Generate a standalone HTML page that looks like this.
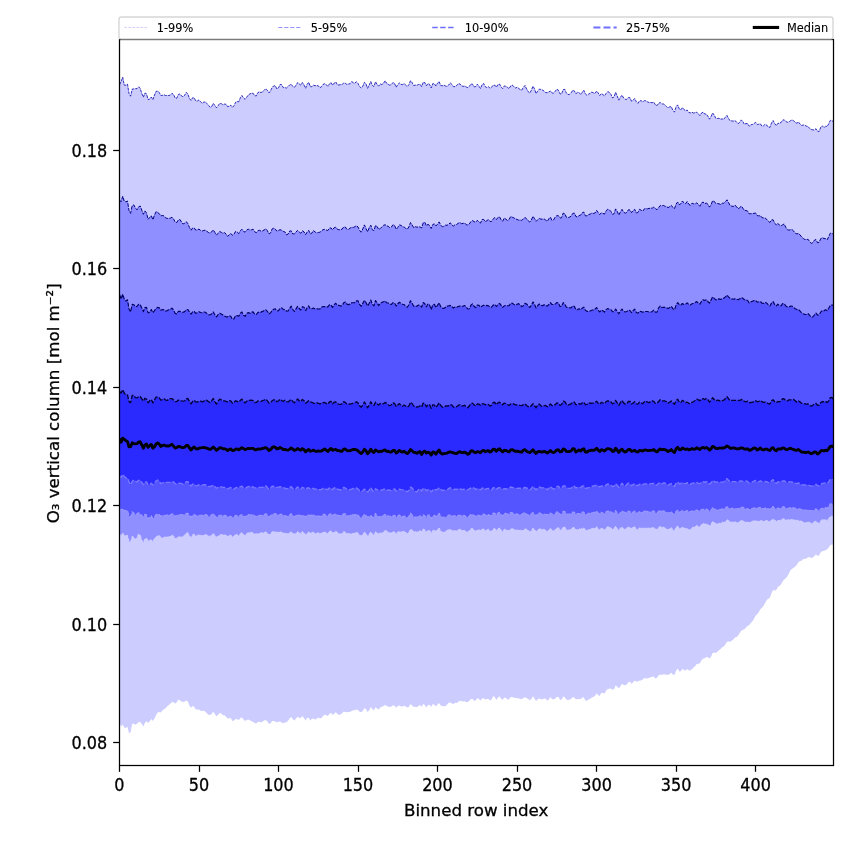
<!DOCTYPE html>
<html lang="en"><head><meta charset="utf-8"><title>O3 vertical column percentiles</title>
<style>html,body{margin:0;padding:0;background:#fff}svg{display:block}</style></head>
<body>
<svg width="850" height="850" viewBox="0 0 850 850">
<rect width="850" height="850" fill="#fff"/>
<clipPath id="ax"><rect x="119.5" y="39.5" width="714.0" height="726.0"/></clipPath>
<g clip-path="url(#ax)">
<polygon points="119.5,84.8 121.1,81.5 122.7,77.2 124.3,85.2 125.9,85.1 127.5,84.2 129.0,93.4 130.6,96.2 132.2,89.1 133.8,88.9 135.4,88.7 137.0,88.6 138.6,86.8 140.2,88.4 141.8,93.5 143.4,97.1 144.9,93.0 146.5,93.8 148.1,99.5 149.7,99.1 151.3,97.0 152.9,99.6 154.5,95.1 156.1,91.3 157.7,91.2 159.3,92.5 160.8,95.4 162.4,95.3 164.0,94.8 165.6,95.5 167.2,95.6 168.8,95.5 170.4,95.0 172.0,93.3 173.6,94.6 175.2,98.0 176.7,98.3 178.3,94.6 179.9,93.9 181.5,95.9 183.1,96.8 184.7,95.2 186.3,92.4 187.9,94.1 189.5,98.6 191.1,100.4 192.6,97.7 194.2,97.9 195.8,100.9 197.4,101.0 199.0,99.9 200.6,101.8 202.2,103.3 203.8,102.1 205.4,101.9 207.0,103.6 208.6,105.4 210.1,107.3 211.7,106.5 213.3,103.4 214.9,105.5 216.5,107.8 218.1,105.7 219.7,103.4 221.3,103.6 222.9,105.0 224.5,104.1 226.0,104.2 227.6,106.6 229.2,106.3 230.8,105.2 232.4,107.3 234.0,105.6 235.6,102.3 237.2,101.6 238.8,101.7 240.4,97.6 241.9,95.5 243.5,97.8 245.1,99.3 246.7,97.2 248.3,95.0 249.9,93.9 251.5,93.3 253.1,93.2 254.7,95.7 256.3,95.9 257.8,92.7 259.4,91.8 261.0,92.6 262.6,91.7 264.2,90.3 265.8,88.7 267.4,90.2 269.0,92.9 270.6,90.7 272.2,87.4 273.7,85.9 275.3,85.8 276.9,89.0 278.5,87.8 280.1,84.4 281.7,84.7 283.3,87.6 284.9,87.6 286.5,88.0 288.1,86.5 289.7,84.9 291.2,84.3 292.8,86.4 294.4,87.3 296.0,85.2 297.6,82.6 299.2,83.9 300.8,85.1 302.4,82.5 304.0,85.0 305.6,88.2 307.1,84.4 308.7,82.3 310.3,86.7 311.9,86.7 313.5,85.0 315.1,85.8 316.7,85.4 318.3,85.8 319.9,87.8 321.5,86.7 323.0,84.5 324.6,83.7 326.2,84.5 327.8,86.4 329.4,84.1 331.0,82.5 332.6,85.2 334.2,83.1 335.8,82.0 337.4,84.8 338.9,85.0 340.5,84.6 342.1,84.6 343.7,82.9 345.3,83.3 346.9,84.4 348.5,84.1 350.1,83.6 351.7,81.6 353.3,82.7 354.8,83.1 356.4,81.7 358.0,83.5 359.6,86.5 361.2,88.0 362.8,86.2 364.4,82.3 366.0,83.8 367.6,88.3 369.2,85.0 370.8,81.5 372.3,85.3 373.9,86.5 375.5,81.8 377.1,84.4 378.7,86.1 380.3,83.9 381.9,84.6 383.5,83.3 385.1,80.8 386.7,83.3 388.2,84.3 389.8,85.2 391.4,84.5 393.0,82.4 394.6,83.6 396.2,87.1 397.8,84.5 399.4,83.0 401.0,84.4 402.6,84.6 404.1,83.6 405.7,85.0 407.3,86.4 408.9,84.8 410.5,80.7 412.1,82.6 413.7,85.5 415.3,85.1 416.9,85.3 418.5,84.5 420.0,84.2 421.6,86.6 423.2,82.2 424.8,82.6 426.4,85.7 428.0,83.6 429.6,84.4 431.2,87.9 432.8,83.6 434.4,83.8 435.9,86.0 437.5,83.3 439.1,81.6 440.7,85.5 442.3,85.8 443.9,85.1 445.5,86.0 447.1,86.4 448.7,85.0 450.3,82.9 451.9,84.4 453.4,86.7 455.0,86.6 456.6,85.6 458.2,83.9 459.8,83.8 461.4,85.7 463.0,86.4 464.6,86.1 466.2,87.0 467.8,87.6 469.3,86.4 470.9,84.0 472.5,84.2 474.1,86.9 475.7,86.6 477.3,84.2 478.9,86.2 480.5,88.5 482.1,84.6 483.7,83.5 485.2,86.6 486.8,87.5 488.4,86.7 490.0,88.2 491.6,87.2 493.2,85.2 494.8,85.1 496.4,87.2 498.0,84.5 499.6,84.1 501.1,87.0 502.7,88.6 504.3,85.9 505.9,86.3 507.5,87.4 509.1,88.7 510.7,85.9 512.3,85.0 513.9,86.8 515.5,87.9 517.1,87.4 518.6,88.3 520.2,89.6 521.8,90.1 523.4,87.3 525.0,85.5 526.6,89.0 528.2,91.7 529.8,93.0 531.4,90.2 533.0,86.2 534.5,88.8 536.1,93.6 537.7,91.1 539.3,89.2 540.9,89.4 542.5,90.1 544.1,91.1 545.7,92.6 547.3,92.7 548.9,91.9 550.4,91.0 552.0,93.0 553.6,93.1 555.2,91.3 556.8,89.2 558.4,90.2 560.0,93.9 561.6,93.8 563.2,89.6 564.8,89.3 566.3,92.9 567.9,94.7 569.5,94.3 571.1,92.9 572.7,90.3 574.3,90.9 575.9,93.8 577.5,92.3 579.1,92.6 580.7,94.5 582.2,92.4 583.8,90.2 585.4,94.0 587.0,95.3 588.6,94.2 590.2,93.2 591.8,92.1 593.4,92.8 595.0,93.3 596.6,91.1 598.2,92.9 599.7,95.5 601.3,93.7 602.9,94.5 604.5,95.9 606.1,93.4 607.7,91.7 609.3,92.3 610.9,94.3 612.5,97.9 614.1,96.9 615.6,92.3 617.2,95.8 618.8,100.2 620.4,97.3 622.0,95.2 623.6,98.0 625.2,99.3 626.8,99.3 628.4,97.5 630.0,97.8 631.5,101.2 633.1,100.3 634.7,98.5 636.3,101.7 637.9,103.3 639.5,100.9 641.1,100.6 642.7,101.9 644.3,100.7 645.9,100.8 647.4,101.8 649.0,102.5 650.6,102.5 652.2,102.7 653.8,102.2 655.4,104.8 657.0,105.6 658.6,103.3 660.2,102.5 661.8,104.0 663.3,103.9 664.9,105.0 666.5,106.6 668.1,107.9 669.7,106.8 671.3,106.7 672.9,110.5 674.5,112.0 676.1,106.7 677.7,104.9 679.3,109.1 680.8,109.8 682.4,107.6 684.0,109.6 685.6,110.7 687.2,110.1 688.8,112.4 690.4,112.9 692.0,112.3 693.6,113.0 695.2,112.6 696.7,112.2 698.3,113.8 699.9,115.6 701.5,113.0 703.1,112.2 704.7,114.0 706.3,114.2 707.9,116.1 709.5,119.2 711.1,116.5 712.6,113.0 714.2,115.1 715.8,118.4 717.4,118.5 719.0,118.2 720.6,119.1 722.2,118.9 723.8,119.3 725.4,117.2 727.0,115.4 728.5,118.4 730.1,120.8 731.7,120.9 733.3,121.1 734.9,120.6 736.5,121.8 738.1,123.6 739.7,122.4 741.3,119.9 742.9,121.7 744.4,124.4 746.0,123.5 747.6,123.6 749.2,126.2 750.8,124.8 752.4,124.5 754.0,123.6 755.6,122.3 757.2,124.4 758.8,124.3 760.4,123.8 761.9,126.1 763.5,125.8 765.1,124.3 766.7,125.0 768.3,127.1 769.9,127.4 771.5,123.0 773.1,120.6 774.7,123.6 776.3,125.6 777.8,123.4 779.4,123.1 781.0,122.6 782.6,120.2 784.2,119.8 785.8,121.5 787.4,122.2 789.0,121.9 790.6,120.6 792.2,120.0 793.7,120.8 795.3,122.5 796.9,123.2 798.5,122.0 800.1,124.1 801.7,125.5 803.3,125.0 804.9,125.4 806.5,126.2 808.1,126.5 809.6,128.4 811.2,129.5 812.8,129.8 814.4,130.0 816.0,128.7 817.6,131.2 819.2,131.4 820.8,127.1 822.4,125.9 824.0,127.7 825.5,126.3 827.1,126.5 828.7,123.9 830.3,120.4 831.9,120.5 833.5,122.0 833.5,544.7 831.9,544.5 830.3,545.2 828.7,547.6 827.1,549.6 825.5,549.9 824.0,551.1 822.4,550.9 820.8,552.3 819.2,555.3 817.6,555.9 816.0,554.6 814.4,555.9 812.8,557.4 811.2,558.1 809.6,557.2 808.1,557.0 806.5,558.6 804.9,559.0 803.3,559.0 801.7,560.4 800.1,561.2 798.5,562.1 796.9,564.8 795.3,566.5 793.7,567.8 792.2,568.7 790.6,570.1 789.0,573.2 787.4,576.2 785.8,578.3 784.2,579.5 782.6,581.6 781.0,584.6 779.4,585.9 777.8,586.9 776.3,590.1 774.7,590.6 773.1,590.1 771.5,593.3 769.9,597.7 768.3,598.7 766.7,600.1 765.1,602.9 763.5,605.9 761.9,607.8 760.4,609.2 758.8,612.0 757.2,614.2 755.6,615.5 754.0,618.7 752.4,621.2 750.8,623.1 749.2,625.3 747.6,625.7 746.0,627.4 744.4,629.3 742.9,629.8 741.3,630.8 739.7,633.1 738.1,635.5 736.5,636.9 734.9,637.6 733.3,639.4 731.7,640.7 730.1,641.7 728.5,641.6 727.0,641.8 725.4,644.4 723.8,646.4 722.2,647.3 720.6,649.1 719.0,650.2 717.4,651.7 715.8,653.0 714.2,652.4 712.6,653.1 711.1,656.4 709.5,658.5 707.9,657.3 706.3,657.0 704.7,658.2 703.1,658.8 701.5,660.3 699.9,663.2 698.3,663.8 696.7,664.0 695.2,665.9 693.6,667.6 692.0,669.1 690.4,670.5 688.8,670.2 687.2,669.0 685.6,670.4 684.0,669.9 682.4,668.9 680.8,671.3 679.3,671.6 677.7,668.6 676.1,670.5 674.5,675.0 672.9,674.4 671.3,672.8 669.7,674.1 668.1,675.1 666.5,674.7 664.9,674.6 663.3,674.2 661.8,675.0 660.2,674.4 658.6,675.2 657.0,677.8 655.4,678.5 653.8,676.5 652.2,676.7 650.6,677.3 649.0,678.1 647.4,678.3 645.9,678.4 644.3,678.1 642.7,679.5 641.1,680.4 639.5,680.5 637.9,681.4 636.3,681.6 634.7,680.4 633.1,682.2 631.5,683.7 630.0,681.7 628.4,682.0 626.8,684.5 625.2,685.3 623.6,684.9 622.0,683.8 620.4,686.2 618.8,688.4 617.2,686.4 615.6,685.5 614.1,689.0 612.5,689.7 610.9,688.6 609.3,688.8 607.7,689.0 606.1,690.7 604.5,693.6 602.9,692.9 601.3,692.8 599.7,695.9 598.2,695.1 596.6,693.5 595.0,695.7 593.4,696.9 591.8,697.5 590.2,698.7 588.6,699.4 587.0,700.7 585.4,700.6 583.8,697.4 582.2,697.5 580.7,699.3 579.1,699.1 577.5,699.1 575.9,699.4 574.3,697.4 572.7,697.3 571.1,698.8 569.5,699.7 567.9,700.1 566.3,699.6 564.8,697.2 563.2,696.5 561.6,699.7 560.0,699.7 558.4,696.8 556.8,697.0 555.2,698.6 553.6,699.6 552.0,699.1 550.4,697.1 548.9,699.4 547.3,700.4 545.7,698.8 544.1,698.5 542.5,699.2 540.9,699.2 539.3,698.6 537.7,699.2 536.1,701.1 534.5,698.5 533.0,696.3 531.4,698.9 529.8,700.3 528.2,698.9 526.6,698.0 525.0,697.2 523.4,698.0 521.8,699.3 520.2,698.8 518.6,698.4 517.1,698.1 515.5,698.0 513.9,697.6 512.3,697.3 510.7,697.1 509.1,699.3 507.5,699.4 505.9,698.0 504.3,697.5 502.7,699.8 501.1,698.7 499.6,696.2 498.0,697.6 496.4,700.1 494.8,697.2 493.2,696.1 491.6,699.4 490.0,700.6 488.4,698.9 486.8,699.0 485.2,699.6 483.7,698.3 482.1,698.6 480.5,700.4 478.9,698.9 477.3,698.0 475.7,700.5 474.1,700.7 472.5,699.1 470.9,699.0 469.3,700.7 467.8,702.2 466.2,702.1 464.6,701.2 463.0,701.4 461.4,700.9 459.8,700.8 458.2,702.1 456.6,702.9 455.0,702.8 453.4,704.0 451.9,703.6 450.3,702.6 448.7,702.8 447.1,704.6 445.5,706.2 443.9,706.3 442.3,706.0 440.7,705.6 439.1,702.9 437.5,704.5 435.9,706.5 434.4,704.7 432.8,704.1 431.2,707.0 429.6,704.7 428.0,705.1 426.4,707.4 424.8,705.0 423.2,703.9 421.6,706.7 420.0,705.1 418.5,705.9 416.9,707.2 415.3,706.8 413.7,706.9 412.1,705.4 410.5,704.0 408.9,706.7 407.3,707.6 405.7,706.6 404.1,705.7 402.6,706.6 401.0,706.6 399.4,705.4 397.8,705.9 396.2,707.8 394.6,705.8 393.0,705.2 391.4,706.5 389.8,707.1 388.2,706.4 386.7,706.1 385.1,704.9 383.5,706.0 381.9,706.8 380.3,707.6 378.7,709.6 377.1,708.4 375.5,707.2 373.9,710.3 372.3,709.1 370.8,707.1 369.2,710.3 367.6,712.1 366.0,709.1 364.4,708.3 362.8,710.7 361.2,712.3 359.6,711.7 358.0,710.1 356.4,709.5 354.8,710.3 353.3,710.2 351.7,710.9 350.1,711.7 348.5,711.9 346.9,712.2 345.3,711.9 343.7,711.4 342.1,713.3 340.5,714.5 338.9,715.0 337.4,714.0 335.8,712.3 334.2,713.8 332.6,715.1 331.0,712.8 329.4,713.9 327.8,715.9 326.2,715.0 324.6,714.8 323.0,716.0 321.5,717.9 319.9,718.6 318.3,717.5 316.7,718.4 315.1,719.8 313.5,718.4 311.9,718.7 310.3,720.4 308.7,717.7 307.1,718.1 305.6,720.5 304.0,718.1 302.4,715.9 300.8,718.0 299.2,717.7 297.6,716.7 296.0,718.4 294.4,720.5 292.8,719.3 291.2,717.0 289.7,718.3 288.1,720.8 286.5,722.2 284.9,722.5 283.3,723.3 281.7,722.5 280.1,721.4 278.5,721.8 276.9,722.5 275.3,721.6 273.7,720.9 272.2,720.9 270.6,723.2 269.0,723.9 267.4,721.4 265.8,720.0 264.2,720.5 262.6,721.6 261.0,722.4 259.4,721.8 257.8,722.1 256.3,723.4 254.7,723.0 253.1,721.7 251.5,721.2 249.9,720.3 248.3,719.4 246.7,720.0 245.1,721.1 243.5,719.5 241.9,717.4 240.4,718.0 238.8,719.9 237.2,719.3 235.6,719.1 234.0,720.5 232.4,720.9 230.8,717.9 229.2,718.2 227.6,718.6 226.0,716.4 224.5,715.2 222.9,715.2 221.3,713.6 219.7,713.1 218.1,714.7 216.5,716.2 214.9,714.0 213.3,711.7 211.7,713.7 210.1,715.0 208.6,714.7 207.0,713.4 205.4,711.8 203.8,710.7 202.2,710.9 200.6,710.7 199.0,709.4 197.4,709.4 195.8,709.4 194.2,706.8 192.6,706.1 191.1,707.8 189.5,705.7 187.9,701.6 186.3,700.5 184.7,701.6 183.1,701.9 181.5,701.5 179.9,700.2 178.3,699.4 176.7,702.2 175.2,703.5 173.6,702.3 172.0,701.9 170.4,703.8 168.8,704.9 167.2,706.2 165.6,708.2 164.0,709.2 162.4,710.5 160.8,712.4 159.3,712.0 157.7,712.6 156.1,715.0 154.5,718.4 152.9,721.1 151.3,719.1 149.7,721.2 148.1,723.0 146.5,721.2 144.9,722.8 143.4,726.4 141.8,723.9 140.2,722.0 138.6,722.1 137.0,723.8 135.4,724.7 133.8,723.7 132.2,723.8 130.6,732.2 129.0,733.2 127.5,726.7 125.9,727.9 124.3,727.6 122.7,724.5 121.1,726.5 119.5,722.6" fill="#ccccff"/>
<polygon points="119.5,199.9 121.1,201.8 122.7,196.2 124.3,201.3 125.9,201.9 127.5,201.0 129.0,210.5 130.6,213.4 132.2,205.6 133.8,204.9 135.4,207.9 137.0,209.9 138.6,206.9 140.2,206.0 141.8,210.2 143.4,214.3 144.9,210.9 146.5,212.9 148.1,219.3 149.7,217.5 151.3,215.7 152.9,219.7 154.5,215.0 156.1,211.6 157.7,212.5 159.3,213.7 160.8,215.8 162.4,215.5 164.0,215.9 165.6,217.9 167.2,218.4 168.8,218.4 170.4,218.1 172.0,217.2 173.6,219.0 175.2,222.1 176.7,222.6 178.3,220.0 179.9,219.4 181.5,222.0 183.1,224.0 184.7,223.2 186.3,221.7 187.9,223.7 189.5,227.6 191.1,230.2 192.6,228.0 194.2,227.9 195.8,230.2 197.4,229.8 199.0,229.1 200.6,230.4 202.2,231.0 203.8,230.4 205.4,230.3 207.0,231.4 208.6,232.6 210.1,233.1 211.7,231.8 213.3,229.9 214.9,232.5 216.5,235.1 218.1,233.2 219.7,231.5 221.3,232.3 222.9,233.3 224.5,232.6 226.0,234.0 227.6,236.3 229.2,234.9 230.8,233.4 232.4,235.3 234.0,234.1 235.6,231.4 237.2,232.0 238.8,233.6 240.4,230.7 241.9,229.2 243.5,231.3 245.1,232.2 246.7,230.0 248.3,229.2 249.9,230.1 251.5,229.8 253.1,229.2 254.7,231.8 256.3,232.7 257.8,230.8 259.4,230.3 261.0,231.1 262.6,230.8 264.2,229.9 265.8,228.8 267.4,230.6 269.0,234.0 270.6,232.8 272.2,228.9 273.7,228.1 275.3,229.2 276.9,231.1 278.5,230.4 280.1,229.7 281.7,230.3 283.3,231.4 284.9,231.9 286.5,234.8 288.1,234.0 289.7,231.1 291.2,230.8 292.8,233.9 294.4,234.0 296.0,231.9 297.6,230.5 299.2,232.0 300.8,233.3 302.4,230.8 304.0,231.9 305.6,234.7 307.1,232.1 308.7,230.4 310.3,233.9 311.9,233.1 313.5,230.5 315.1,232.0 316.7,232.9 318.3,232.5 319.9,232.2 321.5,231.0 323.0,229.7 324.6,229.4 326.2,230.0 327.8,230.5 329.4,228.2 331.0,227.9 332.6,229.8 334.2,227.7 335.8,227.2 337.4,229.3 338.9,229.8 340.5,229.6 342.1,229.2 343.7,227.0 345.3,227.0 346.9,229.3 348.5,229.4 350.1,228.1 351.7,227.3 353.3,227.5 354.8,226.7 356.4,225.8 358.0,226.9 359.6,230.3 361.2,232.2 362.8,228.9 364.4,224.9 366.0,228.5 367.6,231.8 369.2,227.8 370.8,225.2 372.3,229.7 373.9,230.6 375.5,225.5 377.1,226.5 378.7,229.5 380.3,228.5 381.9,226.9 383.5,225.4 385.1,224.7 386.7,226.0 388.2,226.2 389.8,227.8 391.4,227.0 393.0,224.7 394.6,225.5 396.2,229.4 397.8,227.4 399.4,224.9 401.0,225.4 402.6,226.7 404.1,227.0 405.7,228.4 407.3,229.2 408.9,226.9 410.5,222.5 412.1,224.9 413.7,227.8 415.3,226.7 416.9,227.2 418.5,226.8 420.0,226.9 421.6,228.0 423.2,222.8 424.8,222.3 426.4,225.8 428.0,224.3 429.6,225.5 431.2,228.5 432.8,224.5 434.4,223.9 435.9,226.0 437.5,224.2 439.1,221.9 440.7,225.0 442.3,226.8 443.9,226.3 445.5,225.2 447.1,225.3 448.7,224.2 450.3,222.8 451.9,225.0 453.4,226.1 455.0,224.7 456.6,224.5 458.2,223.3 459.8,222.5 461.4,223.6 463.0,223.4 464.6,222.9 466.2,224.7 467.8,225.0 469.3,223.9 470.9,221.6 472.5,220.6 474.1,221.7 475.7,222.2 477.3,220.3 478.9,221.9 480.5,223.1 482.1,219.5 483.7,219.4 485.2,221.6 486.8,220.7 488.4,219.5 490.0,221.4 491.6,221.4 493.2,218.9 494.8,217.6 496.4,219.5 498.0,217.4 499.6,216.9 501.1,219.8 502.7,221.2 504.3,218.0 505.9,219.2 507.5,220.5 509.1,219.4 510.7,216.5 512.3,217.3 513.9,217.9 515.5,218.8 517.1,219.5 518.6,220.1 520.2,220.0 521.8,220.4 523.4,218.7 525.0,217.5 526.6,218.8 528.2,220.8 529.8,222.1 531.4,220.0 533.0,216.3 534.5,218.5 536.1,221.3 537.7,219.7 539.3,218.3 540.9,219.2 542.5,219.1 544.1,218.9 545.7,220.1 547.3,221.3 548.9,218.7 550.4,217.1 552.0,220.5 553.6,219.9 555.2,217.1 556.8,215.7 558.4,215.7 560.0,218.0 561.6,217.7 563.2,213.1 564.8,213.7 566.3,217.1 567.9,217.7 569.5,217.1 571.1,216.2 572.7,213.5 574.3,213.0 575.9,216.5 577.5,216.9 579.1,215.6 580.7,215.1 582.2,212.8 583.8,212.1 585.4,215.9 587.0,215.8 588.6,214.6 590.2,214.1 591.8,213.0 593.4,213.5 595.0,213.0 596.6,210.4 598.2,212.6 599.7,214.6 601.3,212.8 602.9,213.4 604.5,214.1 606.1,210.9 607.7,209.2 609.3,209.8 610.9,211.4 612.5,214.3 614.1,213.7 615.6,208.9 617.2,211.3 618.8,215.1 620.4,212.0 622.0,209.4 623.6,212.1 625.2,213.2 626.8,212.4 628.4,209.8 630.0,210.0 631.5,212.6 633.1,210.6 634.7,209.3 636.3,213.0 637.9,212.5 639.5,209.3 641.1,210.2 642.7,211.2 644.3,208.9 645.9,208.5 647.4,208.9 649.0,208.4 650.6,208.1 652.2,208.2 653.8,207.0 655.4,208.6 657.0,209.7 658.6,207.6 660.2,205.6 661.8,205.8 663.3,205.4 664.9,206.2 666.5,206.7 668.1,207.6 669.7,206.6 671.3,205.4 672.9,207.5 674.5,208.7 676.1,204.0 677.7,202.0 679.3,204.6 680.8,203.8 682.4,201.0 684.0,203.0 685.6,203.6 687.2,201.6 688.8,204.3 690.4,205.3 692.0,203.2 693.6,203.8 695.2,203.9 696.7,202.8 698.3,204.5 699.9,206.3 701.5,203.0 703.1,202.0 704.7,203.7 706.3,203.1 707.9,204.2 709.5,207.1 711.1,204.7 712.6,200.8 714.2,201.3 715.8,203.5 717.4,203.5 719.0,203.8 720.6,204.5 722.2,203.2 723.8,203.3 725.4,201.7 727.0,199.8 728.5,202.6 730.1,205.5 731.7,206.1 733.3,206.5 734.9,205.1 736.5,206.6 738.1,208.8 739.7,207.7 741.3,206.1 742.9,208.2 744.4,210.4 746.0,210.5 747.6,211.1 749.2,213.8 750.8,213.7 752.4,213.7 754.0,213.3 755.6,213.0 757.2,215.5 758.8,215.9 760.4,215.6 761.9,217.6 763.5,217.9 765.1,218.0 766.7,219.3 768.3,221.2 769.9,222.4 771.5,220.0 773.1,219.8 774.7,223.3 776.3,224.9 777.8,223.3 779.4,225.1 781.0,226.2 782.6,224.6 784.2,224.1 785.8,227.4 787.4,229.7 789.0,230.2 790.6,229.6 792.2,229.7 793.7,231.1 795.3,233.2 796.9,233.9 798.5,233.4 800.1,235.0 801.7,237.0 803.3,238.5 804.9,239.5 806.5,239.5 808.1,239.3 809.6,241.5 811.2,243.4 812.8,242.6 814.4,240.2 816.0,239.6 817.6,242.8 819.2,242.1 820.8,238.5 822.4,237.7 824.0,238.6 825.5,238.6 827.1,239.9 828.7,236.7 830.3,233.2 831.9,233.2 833.5,234.6 833.5,516.8 831.9,516.0 830.3,516.4 828.7,518.6 827.1,520.4 825.5,519.8 824.0,520.0 822.4,519.2 820.8,520.8 819.2,523.2 817.6,523.1 816.0,521.0 814.4,521.6 812.8,523.0 811.2,523.4 809.6,522.4 808.1,521.7 806.5,522.6 804.9,523.0 803.3,521.9 801.7,521.3 800.1,520.9 798.5,520.4 796.9,520.5 795.3,519.9 793.7,519.7 792.2,519.8 790.6,519.4 789.0,519.7 787.4,520.0 785.8,519.9 784.2,518.9 782.6,518.9 781.0,519.9 779.4,520.5 777.8,520.4 776.3,521.2 774.7,520.3 773.1,519.0 771.5,519.9 769.9,521.7 768.3,521.0 766.7,520.5 765.1,520.8 763.5,521.3 761.9,520.9 760.4,520.4 758.8,521.3 757.2,521.4 755.6,520.4 754.0,521.0 752.4,521.2 750.8,521.7 749.2,522.8 747.6,521.8 746.0,522.2 744.4,522.0 742.9,520.6 741.3,520.5 739.7,521.6 738.1,522.4 736.5,522.6 734.9,521.7 733.3,522.0 731.7,522.2 730.1,522.0 728.5,520.3 727.0,519.9 725.4,521.8 723.8,522.6 722.2,522.0 720.6,523.4 719.0,523.4 717.4,523.6 715.8,524.0 714.2,522.3 712.6,521.5 711.1,524.2 709.5,525.9 707.9,524.6 706.3,524.0 704.7,524.1 703.1,523.4 701.5,524.6 699.9,526.9 698.3,526.4 696.7,525.5 695.2,526.5 693.6,527.2 692.0,527.7 690.4,529.7 688.8,530.0 687.2,528.3 685.6,528.6 684.0,528.0 682.4,526.9 680.8,528.6 679.3,528.6 677.7,526.1 676.1,527.1 674.5,530.8 672.9,529.9 671.3,527.6 669.7,528.7 668.1,529.8 666.5,528.8 664.9,528.0 663.3,527.1 661.8,527.2 660.2,526.5 658.6,527.5 657.0,529.5 655.4,529.0 653.8,527.5 652.2,527.9 650.6,527.9 649.0,527.9 647.4,528.3 645.9,528.3 644.3,527.9 642.7,528.4 641.1,528.0 639.5,527.8 637.9,529.7 636.3,529.2 634.7,526.8 633.1,527.1 631.5,528.6 630.0,527.6 628.4,527.1 626.8,528.1 625.2,529.3 623.6,529.1 622.0,527.0 620.4,528.1 618.8,530.6 617.2,528.7 615.6,526.1 614.1,528.5 612.5,529.5 610.9,528.1 609.3,527.1 607.7,526.6 606.1,528.2 604.5,530.1 602.9,528.4 601.3,528.1 599.7,530.1 598.2,528.8 596.6,526.8 595.0,528.3 593.4,528.6 591.8,528.2 590.2,529.3 588.6,530.0 587.0,530.2 585.4,529.9 583.8,527.9 582.2,528.4 580.7,529.3 579.1,528.8 577.5,529.8 575.9,529.9 574.3,527.4 572.7,527.7 571.1,529.3 569.5,529.8 567.9,530.3 566.3,529.5 564.8,527.1 563.2,526.9 561.6,529.8 560.0,530.0 558.4,527.6 556.8,528.1 555.2,529.9 553.6,530.7 552.0,530.3 550.4,528.3 548.9,529.9 547.3,531.4 545.7,530.3 544.1,529.4 542.5,529.4 540.9,529.0 539.3,528.9 537.7,529.9 536.1,531.6 534.5,529.6 533.0,528.0 531.4,530.7 529.8,531.8 528.2,530.2 526.6,529.3 525.0,528.9 523.4,530.1 521.8,530.9 520.2,530.1 518.6,530.1 517.1,530.3 515.5,529.9 513.9,529.3 512.3,528.8 510.7,529.1 509.1,530.5 507.5,530.5 505.9,529.4 504.3,529.2 502.7,531.7 501.1,530.4 499.6,527.7 498.0,528.9 496.4,530.6 494.8,528.5 493.2,529.0 491.6,531.4 490.0,531.1 488.4,529.2 486.8,530.1 485.2,530.7 483.7,529.0 482.1,529.0 480.5,530.5 478.9,529.8 477.3,530.0 475.7,531.2 474.1,530.1 472.5,528.5 470.9,528.8 469.3,530.7 467.8,532.1 466.2,531.6 464.6,530.5 463.0,530.6 461.4,530.1 459.8,529.3 458.2,529.7 456.6,531.0 455.0,530.8 453.4,530.6 451.9,530.4 450.3,529.7 448.7,529.3 447.1,530.4 445.5,531.4 443.9,532.1 442.3,532.3 440.7,530.8 439.1,528.0 437.5,529.6 435.9,531.4 434.4,530.0 432.8,530.5 431.2,533.3 429.6,530.4 428.0,530.3 426.4,532.3 424.8,529.8 423.2,529.0 421.6,531.8 420.0,530.6 418.5,531.5 416.9,532.3 415.3,531.4 413.7,531.5 412.1,530.0 410.5,529.2 408.9,532.3 407.3,533.5 405.7,532.6 404.1,531.1 402.6,531.5 401.0,532.2 399.4,531.4 397.8,531.9 396.2,534.0 394.6,532.0 393.0,531.6 391.4,533.0 389.8,533.0 388.2,532.0 386.7,531.3 385.1,530.1 383.5,532.3 381.9,533.2 380.3,532.6 378.7,534.0 377.1,532.7 375.5,531.8 373.9,535.2 372.3,534.0 370.8,531.8 369.2,534.3 367.6,536.4 366.0,533.6 364.4,532.1 362.8,534.6 361.2,536.1 359.6,535.0 358.0,533.2 356.4,532.2 354.8,533.1 353.3,533.6 351.7,533.6 350.1,534.0 348.5,533.6 346.9,533.4 345.3,532.3 343.7,531.6 342.1,533.5 340.5,534.1 338.9,533.6 337.4,532.5 335.8,531.3 334.2,532.2 332.6,533.1 331.0,530.7 329.4,531.5 327.8,533.3 326.2,533.0 324.6,532.0 323.0,532.1 321.5,533.6 319.9,533.6 318.3,532.6 316.7,533.4 315.1,533.6 313.5,532.2 311.9,532.5 310.3,532.9 308.7,532.0 307.1,533.3 305.6,534.9 304.0,532.7 302.4,531.5 300.8,533.4 299.2,532.7 297.6,531.8 296.0,533.3 294.4,534.3 292.8,533.1 291.2,531.9 289.7,532.7 288.1,533.4 286.5,533.7 284.9,533.1 283.3,533.1 281.7,532.3 280.1,531.9 278.5,531.9 276.9,532.5 275.3,531.8 273.7,531.7 272.2,531.8 270.6,533.7 269.0,534.9 267.4,533.0 265.8,531.8 264.2,532.7 262.6,532.7 261.0,532.8 259.4,533.5 257.8,533.6 256.3,533.9 254.7,533.9 253.1,532.9 251.5,532.3 249.9,532.5 248.3,532.7 246.7,533.5 245.1,535.5 243.5,534.8 241.9,532.4 240.4,533.6 238.8,536.1 237.2,534.8 235.6,534.2 234.0,536.3 232.4,537.0 230.8,535.0 229.2,535.5 227.6,536.3 226.0,535.4 224.5,534.8 222.9,534.8 221.3,534.6 219.7,535.1 218.1,536.2 216.5,537.1 214.9,535.5 213.3,533.6 211.7,535.1 210.1,536.4 208.6,535.9 207.0,534.9 205.4,534.7 203.8,535.0 202.2,535.7 200.6,535.4 199.0,534.6 197.4,535.4 195.8,536.2 194.2,534.1 192.6,534.7 191.1,537.5 189.5,536.0 187.9,532.8 186.3,532.9 184.7,535.2 183.1,536.2 181.5,537.0 179.9,537.0 178.3,536.5 176.7,538.2 175.2,538.5 173.6,536.1 172.0,534.9 170.4,536.3 168.8,536.9 167.2,536.8 165.6,537.0 164.0,537.3 162.4,538.1 160.8,537.6 159.3,535.2 157.7,536.0 156.1,536.8 154.5,538.3 152.9,541.7 151.3,539.8 149.7,540.2 148.1,540.9 146.5,538.1 144.9,539.0 143.4,542.7 141.8,540.0 140.2,535.1 138.6,533.9 137.0,537.8 135.4,539.3 133.8,537.3 132.2,536.3 130.6,542.1 129.0,541.6 127.5,535.4 125.9,535.4 124.3,535.6 122.7,533.1 121.1,535.6 119.5,533.9" fill="#8f8fff"/>
<polygon points="119.5,294.5 121.1,299.0 122.7,294.2 124.3,299.3 125.9,301.1 127.5,299.8 129.0,309.0 130.6,311.9 132.2,304.4 133.8,304.7 135.4,306.7 137.0,306.3 138.6,304.3 140.2,304.7 141.8,307.9 143.4,311.6 144.9,307.6 146.5,307.4 148.1,312.9 149.7,312.1 151.3,309.5 152.9,312.8 154.5,310.7 156.1,308.3 157.7,307.4 159.3,307.7 160.8,310.2 162.4,309.5 164.0,309.9 165.6,311.1 167.2,310.6 168.8,309.8 170.4,309.3 172.0,308.1 173.6,310.2 175.2,313.4 176.7,313.9 178.3,311.4 179.9,311.2 181.5,312.2 183.1,312.2 184.7,311.6 186.3,309.8 187.9,309.5 189.5,312.1 191.1,314.1 192.6,311.8 194.2,311.5 195.8,313.3 197.4,312.8 199.0,311.7 200.6,312.5 202.2,312.8 203.8,312.0 205.4,312.2 207.0,313.6 208.6,314.8 210.1,314.9 211.7,313.8 213.3,312.0 214.9,314.8 216.5,316.9 218.1,314.7 219.7,313.3 221.3,314.0 222.9,315.0 224.5,316.1 226.0,316.8 227.6,316.8 229.2,315.8 230.8,316.3 232.4,319.5 234.0,318.8 235.6,315.7 237.2,315.5 238.8,316.2 240.4,313.3 241.9,312.0 243.5,315.2 245.1,316.4 246.7,313.5 248.3,312.6 249.9,313.3 251.5,312.2 253.1,311.9 254.7,314.2 256.3,314.5 257.8,312.6 259.4,311.9 261.0,312.1 262.6,311.4 264.2,310.6 265.8,309.8 267.4,311.3 269.0,313.9 270.6,312.8 272.2,310.3 273.7,309.3 275.3,308.8 276.9,310.9 278.5,310.7 280.1,308.4 281.7,307.8 283.3,309.4 284.9,309.7 286.5,311.1 288.1,311.0 289.7,308.3 291.2,306.2 292.8,309.3 294.4,311.5 296.0,308.9 297.6,306.4 299.2,308.5 300.8,310.0 302.4,306.7 304.0,307.3 305.6,310.6 307.1,307.9 308.7,305.9 310.3,308.9 311.9,308.7 313.5,308.0 315.1,309.0 316.7,308.7 318.3,308.9 319.9,309.0 321.5,307.2 323.0,306.5 324.6,306.6 326.2,306.8 327.8,306.9 329.4,304.8 331.0,305.0 332.6,307.4 334.2,304.6 335.8,303.3 337.4,305.3 338.9,305.3 340.5,306.1 342.1,305.7 343.7,302.7 345.3,302.1 346.9,304.1 348.5,304.6 350.1,304.1 351.7,302.7 353.3,302.8 354.8,302.6 356.4,300.9 358.0,300.8 359.6,304.4 361.2,306.3 362.8,303.4 364.4,300.4 366.0,302.5 367.6,306.0 369.2,303.3 370.8,300.0 372.3,304.3 373.9,305.8 375.5,300.6 377.1,302.7 378.7,305.6 380.3,303.3 381.9,302.4 383.5,301.8 385.1,300.9 386.7,302.8 388.2,303.0 389.8,304.2 391.4,304.4 393.0,302.7 394.6,303.1 396.2,306.1 397.8,303.7 399.4,302.3 401.0,303.5 402.6,304.3 404.1,304.5 405.7,306.4 407.3,307.2 408.9,304.7 410.5,300.7 412.1,303.3 413.7,306.2 415.3,306.0 416.9,306.3 418.5,305.0 420.0,305.3 421.6,307.1 423.2,302.5 424.8,303.7 426.4,306.8 428.0,303.8 429.6,305.1 431.2,309.6 432.8,304.8 434.4,304.3 435.9,307.5 437.5,305.4 439.1,302.7 440.7,306.7 442.3,308.1 443.9,308.5 445.5,307.3 447.1,306.1 448.7,305.9 450.3,305.4 451.9,306.5 453.4,308.1 455.0,307.1 456.6,307.2 458.2,306.6 459.8,306.0 461.4,306.5 463.0,306.2 464.6,305.5 466.2,306.9 467.8,309.0 469.3,308.7 470.9,305.2 472.5,303.9 474.1,306.3 475.7,307.7 477.3,305.1 478.9,305.2 480.5,307.2 482.1,306.0 483.7,305.2 485.2,305.7 486.8,305.4 488.4,305.7 490.0,307.2 491.6,307.2 493.2,305.1 494.8,304.4 496.4,306.5 498.0,304.5 499.6,303.4 501.1,305.3 502.7,307.3 504.3,305.8 505.9,305.4 507.5,305.8 509.1,305.7 510.7,303.4 512.3,303.2 513.9,304.4 515.5,305.3 517.1,304.2 518.6,303.6 520.2,305.0 521.8,306.7 523.4,305.6 525.0,303.4 526.6,304.0 528.2,305.8 529.8,307.5 531.4,305.3 533.0,301.9 534.5,304.4 536.1,308.0 537.7,305.5 539.3,304.0 540.9,305.2 542.5,305.8 544.1,304.7 545.7,305.2 547.3,306.1 548.9,304.5 550.4,302.7 552.0,304.5 553.6,304.5 555.2,304.2 556.8,302.6 558.4,302.8 560.0,306.5 561.6,306.4 563.2,302.6 564.8,304.2 566.3,307.1 567.9,307.6 569.5,307.7 571.1,307.9 572.7,306.0 574.3,306.2 575.9,309.8 577.5,309.6 579.1,308.7 580.7,309.8 582.2,308.2 583.8,307.1 585.4,310.3 587.0,311.4 588.6,311.3 590.2,311.0 591.8,310.3 593.4,309.9 595.0,309.1 596.6,307.6 598.2,310.1 599.7,312.0 601.3,310.1 602.9,310.7 604.5,312.1 606.1,309.6 607.7,308.5 609.3,309.3 610.9,309.7 612.5,311.6 614.1,311.8 615.6,309.1 617.2,311.2 618.8,313.8 620.4,311.0 622.0,309.0 623.6,311.3 625.2,312.0 626.8,311.5 628.4,310.2 630.0,310.5 631.5,312.6 633.1,310.7 634.7,309.1 636.3,312.4 637.9,313.2 639.5,311.3 641.1,311.5 642.7,312.3 644.3,311.5 645.9,311.5 647.4,311.5 649.0,312.0 650.6,312.2 652.2,311.4 653.8,310.1 655.4,312.2 657.0,312.1 658.6,307.9 660.2,306.0 661.8,307.5 663.3,307.2 664.9,307.4 666.5,307.8 668.1,308.6 669.7,307.5 671.3,306.4 672.9,308.6 674.5,309.9 676.1,305.0 677.7,302.7 679.3,304.7 680.8,305.0 682.4,303.5 684.0,304.4 685.6,304.0 687.2,302.9 688.8,304.6 690.4,304.9 692.0,303.7 693.6,303.5 695.2,302.6 696.7,301.6 698.3,303.1 699.9,304.1 701.5,301.2 703.1,299.8 704.7,300.5 706.3,299.8 707.9,301.5 709.5,303.1 711.1,299.9 712.6,296.9 714.2,298.4 715.8,299.9 717.4,299.2 719.0,298.9 720.6,299.5 722.2,298.5 723.8,298.3 725.4,296.9 727.0,295.1 728.5,296.8 730.1,298.5 731.7,298.9 733.3,299.3 734.9,298.7 736.5,299.1 738.1,299.7 739.7,298.8 741.3,297.7 742.9,298.4 744.4,299.7 746.0,299.7 747.6,300.5 749.2,302.8 750.8,301.9 752.4,301.2 754.0,300.6 755.6,300.4 757.2,302.1 758.8,301.8 760.4,301.4 761.9,303.1 763.5,303.4 765.1,302.5 766.7,303.0 768.3,304.9 769.9,306.0 771.5,303.1 773.1,301.6 774.7,304.5 776.3,305.9 777.8,304.2 779.4,305.5 781.0,305.8 782.6,303.6 784.2,303.8 785.8,305.9 787.4,306.9 789.0,307.0 790.6,306.1 792.2,306.3 793.7,307.5 795.3,308.8 796.9,309.6 798.5,309.6 800.1,311.2 801.7,313.0 803.3,313.8 804.9,314.5 806.5,314.3 808.1,313.6 809.6,315.4 811.2,317.2 812.8,317.0 814.4,315.0 816.0,313.1 817.6,315.1 819.2,314.9 820.8,311.9 822.4,310.6 824.0,310.8 825.5,309.8 827.1,310.6 828.7,308.3 830.3,305.5 831.9,305.0 833.5,305.3 833.5,504.9 831.9,504.0 830.3,503.9 828.7,506.3 827.1,508.4 825.5,507.5 824.0,508.3 822.4,508.3 820.8,509.0 819.2,510.4 817.6,510.2 816.0,508.8 814.4,509.9 812.8,510.5 811.2,510.7 809.6,510.3 808.1,509.8 806.5,510.4 804.9,510.2 803.3,509.6 801.7,509.5 800.1,509.0 798.5,508.7 796.9,509.0 795.3,508.2 793.7,507.7 792.2,507.7 790.6,507.6 789.0,508.1 787.4,508.5 785.8,508.2 784.2,506.9 782.6,506.9 781.0,508.2 779.4,508.6 777.8,508.0 776.3,509.2 774.7,508.6 773.1,506.5 771.5,507.3 769.9,509.5 768.3,508.8 766.7,507.9 765.1,508.1 763.5,508.8 761.9,508.6 760.4,507.3 758.8,507.7 757.2,508.2 755.6,507.7 754.0,508.1 752.4,508.3 750.8,509.0 749.2,509.8 747.6,508.6 746.0,508.9 744.4,508.5 742.9,507.3 741.3,507.3 739.7,508.1 738.1,508.6 736.5,508.8 734.9,508.6 733.3,508.4 731.7,508.4 730.1,508.9 728.5,507.8 727.0,506.7 725.4,508.0 723.8,508.9 722.2,508.9 720.6,509.6 719.0,509.3 717.4,510.1 715.8,510.0 714.2,508.2 712.6,507.8 711.1,510.2 709.5,511.4 707.9,509.9 706.3,509.1 704.7,509.8 703.1,509.3 701.5,509.5 699.9,511.1 698.3,510.8 696.7,509.9 695.2,510.4 693.6,511.1 692.0,511.0 690.4,511.5 688.8,511.7 687.2,510.5 685.6,511.3 684.0,511.2 682.4,510.4 680.8,511.8 679.3,512.1 677.7,510.3 676.1,511.4 674.5,514.1 672.9,513.8 671.3,511.9 669.7,512.1 668.1,513.2 666.5,512.6 664.9,511.0 663.3,510.9 661.8,511.6 660.2,510.3 658.6,511.2 657.0,513.2 655.4,512.7 653.8,510.9 652.2,511.3 650.6,511.7 649.0,512.2 647.4,511.6 645.9,510.5 644.3,511.0 642.7,512.7 641.1,512.1 639.5,511.6 637.9,513.1 636.3,512.9 634.7,511.0 633.1,511.9 631.5,513.3 630.0,511.6 628.4,511.1 626.8,512.2 625.2,512.4 623.6,512.1 622.0,510.9 620.4,512.5 618.8,514.7 617.2,512.7 615.6,510.5 614.1,512.9 612.5,513.2 610.9,511.6 609.3,511.2 607.7,511.0 606.1,511.8 604.5,513.9 602.9,513.1 601.3,512.2 599.7,513.8 598.2,513.0 596.6,511.0 595.0,512.1 593.4,512.8 591.8,512.8 590.2,513.0 588.6,513.3 587.0,514.3 585.4,514.6 583.8,512.0 582.2,512.1 580.7,513.9 579.1,513.5 577.5,513.5 575.9,514.2 574.3,512.4 572.7,512.0 571.1,513.7 569.5,514.0 567.9,514.3 566.3,513.7 564.8,511.5 563.2,511.2 561.6,514.3 560.0,514.5 558.4,511.9 556.8,511.9 555.2,514.1 553.6,514.8 552.0,514.0 550.4,513.0 548.9,514.1 547.3,514.5 545.7,514.4 544.1,514.1 542.5,514.2 540.9,513.7 539.3,512.8 537.7,513.8 536.1,515.9 534.5,514.2 533.0,512.4 531.4,513.6 529.8,515.0 528.2,515.1 526.6,514.1 525.0,512.6 523.4,513.1 521.8,514.3 520.2,514.8 518.6,514.4 517.1,513.9 515.5,514.2 513.9,513.8 512.3,512.7 510.7,512.5 509.1,513.9 507.5,514.1 505.9,513.4 504.3,513.3 502.7,515.7 501.1,515.0 499.6,512.3 498.0,512.9 496.4,515.1 494.8,513.2 493.2,513.0 491.6,515.2 490.0,515.7 488.4,514.5 486.8,515.1 485.2,515.0 483.7,514.0 482.1,514.8 480.5,516.3 478.9,515.3 477.3,515.1 475.7,516.4 474.1,515.6 472.5,514.3 470.9,514.5 469.3,516.0 467.8,517.2 466.2,517.0 464.6,515.5 463.0,515.3 461.4,515.7 459.8,515.2 458.2,515.4 456.6,516.2 455.0,515.7 453.4,515.8 451.9,516.1 450.3,515.1 448.7,515.0 447.1,516.6 445.5,517.3 443.9,517.2 442.3,517.2 440.7,516.1 439.1,513.3 437.5,515.1 435.9,516.5 434.4,515.3 432.8,516.0 431.2,518.7 429.6,515.1 428.0,515.0 426.4,517.8 424.8,515.8 423.2,514.9 421.6,517.6 420.0,515.7 418.5,516.1 416.9,517.3 415.3,517.1 413.7,517.1 412.1,514.8 410.5,513.0 408.9,516.3 407.3,518.1 405.7,517.0 404.1,516.1 402.6,516.8 401.0,516.1 399.4,514.9 397.8,516.0 396.2,517.4 394.6,515.4 393.0,515.5 391.4,516.5 389.8,516.4 388.2,515.8 386.7,515.8 385.1,514.4 383.5,515.4 381.9,516.1 380.3,516.2 378.7,517.4 377.1,515.5 375.5,513.4 373.9,516.9 372.3,517.4 370.8,515.4 369.2,516.6 367.6,517.3 366.0,515.1 364.4,514.5 362.8,516.5 361.2,517.9 359.6,517.2 358.0,515.1 356.4,514.2 354.8,514.9 353.3,514.9 351.7,514.4 350.1,515.4 348.5,516.1 346.9,515.7 345.3,513.8 343.7,513.7 342.1,515.1 340.5,515.4 338.9,515.6 337.4,515.2 335.8,513.8 334.2,514.5 332.6,515.5 331.0,513.6 329.4,514.2 327.8,516.2 326.2,515.8 324.6,514.2 323.0,514.4 321.5,516.0 319.9,516.8 318.3,515.4 316.7,515.8 315.1,516.4 313.5,514.9 311.9,514.6 310.3,515.9 308.7,514.8 307.1,515.2 305.6,516.7 304.0,515.9 302.4,515.0 300.8,516.0 299.2,515.2 297.6,514.6 296.0,515.7 294.4,516.6 292.8,515.4 291.2,513.6 289.7,514.8 288.1,516.3 286.5,516.4 284.9,515.6 283.3,515.5 281.7,514.3 280.1,514.4 278.5,515.1 276.9,514.8 275.3,513.5 273.7,514.0 272.2,514.3 270.6,515.7 269.0,516.7 267.4,515.0 265.8,513.6 264.2,514.6 262.6,515.4 261.0,515.5 259.4,515.4 257.8,515.6 256.3,516.5 254.7,516.1 253.1,514.5 251.5,514.7 249.9,515.0 248.3,514.5 246.7,515.5 245.1,517.1 243.5,516.2 241.9,514.5 240.4,515.2 238.8,516.8 237.2,515.8 235.6,515.4 234.0,517.0 232.4,517.7 230.8,516.3 229.2,516.6 227.6,516.9 226.0,515.8 224.5,515.3 222.9,515.8 221.3,515.3 219.7,515.2 218.1,516.3 216.5,517.4 214.9,515.9 213.3,513.6 211.7,514.7 210.1,516.5 208.6,516.4 207.0,515.1 205.4,514.5 203.8,514.9 202.2,515.3 200.6,515.3 199.0,515.3 197.4,515.8 195.8,515.7 194.2,514.3 192.6,515.4 191.1,517.3 189.5,515.5 187.9,513.4 186.3,513.5 184.7,514.6 183.1,514.9 181.5,514.8 179.9,514.5 178.3,514.7 176.7,515.9 175.2,516.0 173.6,514.4 172.0,513.8 170.4,514.9 168.8,514.9 167.2,514.9 165.6,515.6 164.0,515.3 162.4,515.6 160.8,516.1 159.3,514.6 157.7,514.0 156.1,514.5 154.5,516.9 152.9,518.7 151.3,515.7 149.7,517.5 148.1,518.8 146.5,514.7 144.9,514.3 143.4,517.2 141.8,515.5 140.2,514.0 138.6,512.7 137.0,513.8 135.4,514.7 133.8,513.1 132.2,511.7 130.6,516.9 129.0,516.2 127.5,510.5 125.9,510.4 124.3,511.1 122.7,508.5 121.1,510.3 119.5,508.9" fill="#5555ff"/>
<polygon points="119.5,391.5 121.1,393.0 122.7,389.7 124.3,393.2 125.9,395.1 127.5,394.9 129.0,401.7 130.6,402.6 132.2,395.5 133.8,395.4 135.4,397.6 137.0,397.8 138.6,396.7 140.2,396.5 141.8,398.8 143.4,401.1 144.9,398.3 146.5,399.1 148.1,402.8 149.7,400.6 151.3,399.5 152.9,402.9 154.5,399.8 156.1,397.1 157.7,397.0 159.3,397.9 160.8,400.1 162.4,399.7 164.0,398.8 165.6,400.1 167.2,400.4 168.8,399.3 170.4,398.6 172.0,398.6 173.6,400.0 175.2,401.7 176.7,401.6 178.3,400.1 179.9,400.3 181.5,400.9 183.1,401.2 184.7,400.9 186.3,398.9 187.9,398.5 189.5,401.6 191.1,403.9 192.6,401.3 194.2,400.3 195.8,401.9 197.4,402.1 199.0,401.1 200.6,401.2 202.2,401.8 203.8,401.1 205.4,400.0 207.0,400.4 208.6,401.7 210.1,402.5 211.7,400.6 213.3,398.5 214.9,401.9 216.5,404.1 218.1,401.1 219.7,399.2 221.3,399.8 222.9,400.9 224.5,400.8 226.0,401.3 227.6,401.8 229.2,400.7 230.8,400.8 232.4,403.2 234.0,402.4 235.6,400.8 237.2,401.3 238.8,402.1 240.4,400.2 241.9,399.1 243.5,401.3 245.1,402.9 246.7,401.3 248.3,400.1 249.9,400.4 251.5,400.2 253.1,400.7 254.7,402.5 256.3,402.4 257.8,400.9 259.4,401.2 261.0,401.4 262.6,400.7 264.2,400.0 265.8,399.2 267.4,400.8 269.0,403.1 270.6,402.4 272.2,400.8 273.7,399.8 275.3,399.8 276.9,401.8 278.5,400.7 280.1,399.3 281.7,400.6 283.3,401.3 284.9,400.3 286.5,401.7 288.1,401.9 289.7,400.5 291.2,399.6 292.8,401.4 294.4,402.7 296.0,400.9 297.6,399.0 299.2,400.8 300.8,401.6 302.4,399.5 304.0,400.7 305.6,403.2 307.1,402.1 308.7,400.7 310.3,401.8 311.9,402.3 313.5,403.1 315.1,403.3 316.7,402.6 318.3,403.3 319.9,403.9 321.5,403.0 323.0,402.6 324.6,402.5 326.2,403.4 327.8,404.3 329.4,402.0 331.0,401.4 332.6,403.8 334.2,402.2 335.8,401.9 337.4,403.9 338.9,404.2 340.5,404.4 342.1,403.8 343.7,401.7 345.3,402.4 346.9,403.9 348.5,404.0 350.1,404.2 351.7,403.7 353.3,403.2 354.8,402.5 356.4,401.8 358.0,402.9 359.6,405.9 361.2,407.1 362.8,404.7 364.4,402.0 366.0,404.5 367.6,407.8 369.2,405.1 370.8,401.8 372.3,404.4 373.9,405.4 375.5,402.2 377.1,403.6 378.7,405.1 380.3,403.4 381.9,403.8 383.5,403.7 385.1,402.4 386.7,403.4 388.2,404.7 389.8,405.7 391.4,404.7 393.0,403.0 394.6,403.5 396.2,406.4 397.8,405.0 399.4,403.6 401.0,405.4 402.6,406.3 404.1,405.0 405.7,406.0 407.3,407.2 408.9,405.9 410.5,402.3 412.1,403.5 413.7,406.0 415.3,406.3 416.9,407.1 418.5,406.6 420.0,405.9 421.6,407.1 423.2,403.1 424.8,403.6 426.4,406.8 428.0,404.6 429.6,404.8 431.2,408.3 432.8,404.8 434.4,405.1 435.9,407.4 437.5,405.4 439.1,402.9 440.7,405.6 442.3,407.1 443.9,407.4 445.5,405.9 447.1,406.0 448.7,405.8 450.3,404.5 451.9,405.2 453.4,407.1 455.0,407.0 456.6,406.7 458.2,405.4 459.8,404.8 461.4,406.0 463.0,405.8 464.6,405.3 466.2,406.9 467.8,407.7 469.3,406.0 470.9,403.5 472.5,403.1 474.1,404.9 475.7,405.9 477.3,404.0 478.9,404.1 480.5,405.3 482.1,403.9 483.7,403.8 485.2,404.8 486.8,404.3 488.4,404.4 490.0,406.1 491.6,405.1 493.2,402.5 494.8,402.3 496.4,404.8 498.0,402.9 499.6,402.2 501.1,403.8 502.7,404.7 504.3,403.1 505.9,403.6 507.5,404.5 509.1,405.5 510.7,404.0 512.3,403.5 513.9,404.1 515.5,404.9 517.1,404.9 518.6,405.1 520.2,405.4 521.8,405.6 523.4,404.7 525.0,403.9 526.6,405.5 528.2,406.6 529.8,407.3 531.4,405.5 533.0,403.7 534.5,405.8 536.1,407.7 537.7,404.9 539.3,404.1 540.9,405.7 542.5,406.8 544.1,405.7 545.7,405.5 547.3,406.8 548.9,405.8 550.4,404.0 552.0,405.5 553.6,405.6 555.2,404.7 556.8,402.9 558.4,403.2 560.0,405.3 561.6,404.5 563.2,401.2 564.8,401.7 566.3,404.2 567.9,405.2 569.5,404.5 571.1,403.9 572.7,402.3 574.3,402.1 575.9,404.7 577.5,404.6 579.1,403.7 580.7,404.2 582.2,402.9 583.8,402.2 585.4,404.7 587.0,404.3 588.6,403.0 590.2,403.2 591.8,403.2 593.4,403.1 595.0,402.5 596.6,401.2 598.2,403.3 599.7,404.3 601.3,402.3 602.9,403.0 604.5,403.7 606.1,401.6 607.7,400.9 609.3,401.0 610.9,401.9 612.5,403.8 614.1,403.0 615.6,400.4 617.2,402.9 618.8,405.3 620.4,402.6 622.0,400.5 623.6,402.9 625.2,404.1 626.8,403.6 628.4,401.5 630.0,401.3 631.5,404.0 633.1,403.1 634.7,401.8 636.3,403.8 637.9,404.1 639.5,402.1 641.1,402.7 642.7,403.8 644.3,401.9 645.9,400.9 647.4,402.1 649.0,402.7 650.6,401.5 652.2,400.8 653.8,401.3 655.4,403.3 657.0,403.4 658.6,401.5 660.2,399.8 661.8,400.8 663.3,400.9 664.9,401.0 666.5,401.7 668.1,403.1 669.7,402.2 671.3,400.9 672.9,402.7 674.5,404.2 676.1,400.7 677.7,399.2 679.3,402.2 680.8,402.6 682.4,400.4 684.0,401.3 685.6,402.5 687.2,402.2 688.8,403.4 690.4,403.8 692.0,402.3 693.6,401.5 695.2,400.5 696.7,399.2 698.3,399.9 699.9,400.7 701.5,399.0 703.1,398.7 704.7,399.5 706.3,398.5 707.9,399.7 709.5,402.1 711.1,400.1 712.6,397.8 714.2,399.4 715.8,401.0 717.4,400.1 719.0,400.3 720.6,401.5 722.2,400.7 723.8,400.2 725.4,398.5 727.0,396.7 728.5,398.6 730.1,400.7 731.7,400.3 733.3,400.4 734.9,400.3 736.5,400.3 738.1,400.4 739.7,400.5 741.3,399.5 742.9,399.9 744.4,401.4 746.0,401.8 747.6,401.2 749.2,402.6 750.8,402.5 752.4,402.4 754.0,401.4 755.6,400.6 757.2,401.8 758.8,401.4 760.4,400.6 761.9,401.7 763.5,402.4 765.1,402.2 766.7,402.5 768.3,403.7 769.9,404.0 771.5,400.9 773.1,399.8 774.7,401.7 776.3,402.7 777.8,401.4 779.4,401.9 781.0,400.9 782.6,398.7 784.2,399.0 785.8,400.8 787.4,400.8 789.0,399.9 790.6,399.8 792.2,399.7 793.7,399.4 795.3,400.9 796.9,402.1 798.5,401.0 800.1,401.9 801.7,403.4 803.3,403.5 804.9,403.8 806.5,404.1 808.1,404.0 809.6,405.3 811.2,406.3 812.8,405.2 814.4,404.0 816.0,403.5 817.6,405.4 819.2,405.2 820.8,402.6 822.4,401.5 824.0,401.9 825.5,401.3 827.1,402.6 828.7,400.9 830.3,397.6 831.9,397.5 833.5,399.2 833.5,480.0 831.9,479.3 830.3,479.3 828.7,481.8 827.1,483.8 825.5,482.9 824.0,483.1 822.4,483.3 820.8,484.6 819.2,486.1 817.6,485.7 816.0,484.3 814.4,485.1 812.8,486.1 811.2,486.1 809.6,485.6 808.1,485.1 806.5,485.1 804.9,485.0 803.3,485.0 801.7,484.8 800.1,483.9 798.5,482.9 796.9,483.6 795.3,483.1 793.7,482.3 792.2,482.2 790.6,481.8 789.0,481.9 787.4,482.5 785.8,481.9 784.2,480.8 782.6,481.0 781.0,481.6 779.4,481.6 777.8,481.9 776.3,483.4 774.7,481.8 773.1,479.6 771.5,480.8 769.9,483.0 768.3,482.4 766.7,481.6 765.1,481.5 763.5,482.0 761.9,481.5 760.4,480.8 758.8,481.8 757.2,481.9 755.6,480.4 754.0,481.2 752.4,482.0 750.8,482.5 749.2,483.1 747.6,481.4 746.0,481.0 744.4,481.6 742.9,481.5 741.3,480.8 739.7,481.2 738.1,481.8 736.5,481.9 734.9,481.6 733.3,481.6 731.7,481.7 730.1,482.0 728.5,480.3 727.0,478.6 725.4,480.0 723.8,481.9 722.2,482.1 720.6,482.2 719.0,481.9 717.4,481.9 715.8,482.4 714.2,481.3 712.6,480.4 711.1,482.8 709.5,484.2 707.9,482.2 706.3,481.5 704.7,482.4 703.1,481.7 701.5,482.1 699.9,483.6 698.3,483.3 696.7,482.4 695.2,482.8 693.6,483.0 692.0,483.3 690.4,484.4 688.8,483.9 687.2,482.6 685.6,483.6 684.0,483.4 682.4,482.3 680.8,483.6 679.3,483.8 677.7,482.1 676.1,483.0 674.5,486.4 672.9,485.8 671.3,483.6 669.7,484.2 668.1,485.3 666.5,484.1 664.9,483.0 663.3,483.0 661.8,483.8 660.2,482.6 658.6,483.3 657.0,485.1 655.4,485.0 653.8,483.3 652.2,483.5 650.6,483.6 649.0,484.2 647.4,484.1 645.9,483.8 644.3,483.9 642.7,484.7 641.1,484.0 639.5,484.2 637.9,485.7 636.3,485.2 634.7,483.7 633.1,484.6 631.5,485.7 630.0,483.9 628.4,483.0 626.8,484.6 625.2,486.2 623.6,485.2 622.0,483.3 620.4,485.4 618.8,487.5 617.2,485.2 615.6,483.6 614.1,486.1 612.5,486.6 610.9,485.2 609.3,484.4 607.7,484.0 606.1,484.9 604.5,486.5 602.9,486.0 601.3,486.0 599.7,487.0 598.2,486.1 596.6,485.0 595.0,485.7 593.4,486.0 591.8,486.4 590.2,487.2 588.6,487.6 587.0,488.2 585.4,488.2 583.8,485.8 582.2,486.1 580.7,487.6 579.1,487.1 577.5,487.4 575.9,488.0 574.3,486.1 572.7,486.3 571.1,488.1 569.5,488.3 567.9,488.2 566.3,487.6 564.8,485.8 563.2,485.8 561.6,488.2 560.0,488.2 558.4,486.2 556.8,486.7 555.2,488.6 553.6,489.1 552.0,488.0 550.4,486.5 548.9,488.3 547.3,489.7 545.7,488.5 544.1,487.5 542.5,487.9 540.9,487.6 539.3,487.0 537.7,487.9 536.1,490.0 534.5,488.2 533.0,486.3 531.4,488.6 529.8,490.1 528.2,488.8 526.6,487.9 525.0,487.5 523.4,488.0 521.8,488.7 520.2,488.2 518.6,488.2 517.1,488.3 515.5,488.3 513.9,487.8 512.3,487.3 510.7,487.0 509.1,488.2 507.5,488.7 505.9,489.0 504.3,488.6 502.7,489.1 501.1,488.5 499.6,487.6 498.0,488.0 496.4,489.1 494.8,487.6 493.2,487.7 491.6,489.9 490.0,490.3 488.4,488.3 486.8,488.6 485.2,489.3 483.7,487.7 482.1,488.2 480.5,489.9 478.9,488.8 477.3,488.7 475.7,489.5 474.1,488.1 472.5,487.5 470.9,487.9 469.3,488.8 467.8,489.9 466.2,489.9 464.6,489.1 463.0,489.5 461.4,489.5 459.8,488.6 458.2,488.8 456.6,489.4 455.0,489.2 453.4,489.7 451.9,489.1 450.3,487.7 448.7,488.6 447.1,489.8 445.5,490.0 443.9,490.2 442.3,490.5 440.7,489.4 439.1,487.7 437.5,489.4 435.9,490.0 434.4,488.9 432.8,490.2 431.2,492.0 429.6,489.3 428.0,489.7 426.4,490.9 424.8,488.5 423.2,488.5 421.6,491.1 420.0,488.8 418.5,489.6 416.9,491.8 415.3,491.5 413.7,490.1 412.1,487.8 410.5,487.1 408.9,490.4 407.3,491.7 405.7,490.9 404.1,489.7 402.6,489.9 401.0,489.7 399.4,489.1 397.8,490.0 396.2,491.0 394.6,488.9 393.0,489.5 391.4,490.6 389.8,490.1 388.2,490.0 386.7,490.3 385.1,488.9 383.5,489.3 381.9,490.1 380.3,490.1 378.7,490.9 377.1,489.5 375.5,488.8 373.9,492.0 372.3,490.3 370.8,487.4 369.2,490.1 367.6,492.1 366.0,489.9 364.4,489.1 362.8,490.7 361.2,491.8 359.6,490.7 358.0,489.0 356.4,487.9 354.8,488.3 353.3,488.5 351.7,489.1 350.1,489.7 348.5,489.5 346.9,489.2 345.3,488.0 343.7,487.3 342.1,489.6 340.5,490.0 338.9,489.4 337.4,489.2 335.8,487.6 334.2,487.8 332.6,489.7 331.0,488.2 329.4,487.8 327.8,489.5 326.2,489.3 324.6,488.3 323.0,488.4 321.5,489.4 319.9,489.9 318.3,489.2 316.7,488.9 315.1,489.4 313.5,488.4 311.9,488.3 310.3,489.1 308.7,487.8 307.1,488.0 305.6,489.5 304.0,488.0 302.4,487.3 300.8,489.1 299.2,488.2 297.6,486.9 296.0,488.7 294.4,489.9 292.8,488.5 291.2,486.7 289.7,487.3 288.1,488.3 286.5,488.8 284.9,488.2 283.3,487.7 281.7,486.8 280.1,486.7 278.5,487.2 276.9,487.5 275.3,486.7 273.7,486.5 272.2,486.1 270.6,487.9 269.0,489.5 267.4,487.6 265.8,485.8 264.2,486.7 262.6,487.3 261.0,487.4 259.4,487.4 257.8,487.5 256.3,487.9 254.7,487.9 253.1,487.0 251.5,486.4 249.9,486.5 248.3,486.6 246.7,487.3 245.1,488.7 243.5,487.8 241.9,486.1 240.4,486.6 238.8,488.0 237.2,487.6 235.6,487.7 234.0,489.1 232.4,489.1 230.8,487.5 229.2,488.2 227.6,488.9 226.0,487.8 224.5,487.3 222.9,487.3 221.3,486.8 219.7,486.7 218.1,487.3 216.5,488.3 214.9,486.7 213.3,485.1 211.7,486.0 210.1,486.6 208.6,486.5 207.0,485.8 205.4,484.6 203.8,484.7 202.2,485.4 200.6,485.1 199.0,484.7 197.4,485.6 195.8,485.9 194.2,484.0 192.6,484.1 191.1,486.0 189.5,484.4 187.9,481.6 186.3,481.6 184.7,483.6 183.1,484.0 181.5,483.6 179.9,483.1 178.3,483.1 176.7,484.1 175.2,483.8 173.6,482.0 172.0,481.4 170.4,482.4 168.8,482.4 167.2,482.4 165.6,482.5 164.0,482.1 162.4,483.0 160.8,483.7 159.3,481.0 157.7,480.0 156.1,481.0 154.5,483.2 152.9,484.9 151.3,483.2 149.7,484.7 148.1,485.2 146.5,481.8 144.9,482.1 143.4,484.6 141.8,482.3 140.2,480.2 138.6,480.3 137.0,482.0 135.4,481.2 133.8,480.0 132.2,481.2 130.6,485.0 129.0,481.9 127.5,477.9 125.9,478.1 124.3,476.5 122.7,474.2 121.1,477.6 119.5,475.9" fill="#2a2aff"/>
<polyline points="119.5,533.9 121.1,535.6 122.7,533.1 124.3,535.6 125.9,535.4 127.5,535.4 129.0,541.6 130.6,542.1 132.2,536.3 133.8,537.3 135.4,539.3 137.0,537.8 138.6,533.9 140.2,535.1 141.8,540.0 143.4,542.7 144.9,539.0 146.5,538.1 148.1,540.9 149.7,540.2 151.3,539.8 152.9,541.7 154.5,538.3 156.1,536.8 157.7,536.0 159.3,535.2 160.8,537.6 162.4,538.1 164.0,537.3 165.6,537.0 167.2,536.8 168.8,536.9 170.4,536.3 172.0,534.9 173.6,536.1 175.2,538.5 176.7,538.2 178.3,536.5 179.9,537.0 181.5,537.0 183.1,536.2 184.7,535.2 186.3,532.9 187.9,532.8 189.5,536.0 191.1,537.5 192.6,534.7 194.2,534.1 195.8,536.2 197.4,535.4 199.0,534.6 200.6,535.4 202.2,535.7 203.8,535.0 205.4,534.7 207.0,534.9 208.6,535.9 210.1,536.4 211.7,535.1 213.3,533.6 214.9,535.5 216.5,537.1 218.1,536.2 219.7,535.1 221.3,534.6 222.9,534.8 224.5,534.8 226.0,535.4 227.6,536.3 229.2,535.5 230.8,535.0 232.4,537.0 234.0,536.3 235.6,534.2 237.2,534.8 238.8,536.1 240.4,533.6 241.9,532.4 243.5,534.8 245.1,535.5 246.7,533.5 248.3,532.7 249.9,532.5 251.5,532.3 253.1,532.9 254.7,533.9 256.3,533.9 257.8,533.6 259.4,533.5 261.0,532.8 262.6,532.7 264.2,532.7 265.8,531.8 267.4,533.0 269.0,534.9 270.6,533.7 272.2,531.8 273.7,531.7 275.3,531.8 276.9,532.5 278.5,531.9 280.1,531.9 281.7,532.3 283.3,533.1 284.9,533.1 286.5,533.7 288.1,533.4 289.7,532.7 291.2,531.9 292.8,533.1 294.4,534.3 296.0,533.3 297.6,531.8 299.2,532.7 300.8,533.4 302.4,531.5 304.0,532.7 305.6,534.9 307.1,533.3 308.7,532.0 310.3,532.9 311.9,532.5 313.5,532.2 315.1,533.6 316.7,533.4 318.3,532.6 319.9,533.6 321.5,533.6 323.0,532.1 324.6,532.0 326.2,533.0 327.8,533.3 329.4,531.5 331.0,530.7 332.6,533.1 334.2,532.2 335.8,531.3 337.4,532.5 338.9,533.6 340.5,534.1 342.1,533.5 343.7,531.6 345.3,532.3 346.9,533.4 348.5,533.6 350.1,534.0 351.7,533.6 353.3,533.6 354.8,533.1 356.4,532.2 358.0,533.2 359.6,535.0 361.2,536.1 362.8,534.6 364.4,532.1 366.0,533.6 367.6,536.4 369.2,534.3 370.8,531.8 372.3,534.0 373.9,535.2 375.5,531.8 377.1,532.7 378.7,534.0 380.3,532.6 381.9,533.2 383.5,532.3 385.1,530.1 386.7,531.3 388.2,532.0 389.8,533.0 391.4,533.0 393.0,531.6 394.6,532.0 396.2,534.0 397.8,531.9 399.4,531.4 401.0,532.2 402.6,531.5 404.1,531.1 405.7,532.6 407.3,533.5 408.9,532.3 410.5,529.2 412.1,530.0 413.7,531.5 415.3,531.4 416.9,532.3 418.5,531.5 420.0,530.6 421.6,531.8 423.2,529.0 424.8,529.8 426.4,532.3 428.0,530.3 429.6,530.4 431.2,533.3 432.8,530.5 434.4,530.0 435.9,531.4 437.5,529.6 439.1,528.0 440.7,530.8 442.3,532.3 443.9,532.1 445.5,531.4 447.1,530.4 448.7,529.3 450.3,529.7 451.9,530.4 453.4,530.6 455.0,530.8 456.6,531.0 458.2,529.7 459.8,529.3 461.4,530.1 463.0,530.6 464.6,530.5 466.2,531.6 467.8,532.1 469.3,530.7 470.9,528.8 472.5,528.5 474.1,530.1 475.7,531.2 477.3,530.0 478.9,529.8 480.5,530.5 482.1,529.0 483.7,529.0 485.2,530.7 486.8,530.1 488.4,529.2 490.0,531.1 491.6,531.4 493.2,529.0 494.8,528.5 496.4,530.6 498.0,528.9 499.6,527.7 501.1,530.4 502.7,531.7 504.3,529.2 505.9,529.4 507.5,530.5 509.1,530.5 510.7,529.1 512.3,528.8 513.9,529.3 515.5,529.9 517.1,530.3 518.6,530.1 520.2,530.1 521.8,530.9 523.4,530.1 525.0,528.9 526.6,529.3 528.2,530.2 529.8,531.8 531.4,530.7 533.0,528.0 534.5,529.6 536.1,531.6 537.7,529.9 539.3,528.9 540.9,529.0 542.5,529.4 544.1,529.4 545.7,530.3 547.3,531.4 548.9,529.9 550.4,528.3 552.0,530.3 553.6,530.7 555.2,529.9 556.8,528.1 558.4,527.6 560.0,530.0 561.6,529.8 563.2,526.9 564.8,527.1 566.3,529.5 567.9,530.3 569.5,529.8 571.1,529.3 572.7,527.7 574.3,527.4 575.9,529.9 577.5,529.8 579.1,528.8 580.7,529.3 582.2,528.4 583.8,527.9 585.4,529.9 587.0,530.2 588.6,530.0 590.2,529.3 591.8,528.2 593.4,528.6 595.0,528.3 596.6,526.8 598.2,528.8 599.7,530.1 601.3,528.1 602.9,528.4 604.5,530.1 606.1,528.2 607.7,526.6 609.3,527.1 610.9,528.1 612.5,529.5 614.1,528.5 615.6,526.1 617.2,528.7 618.8,530.6 620.4,528.1 622.0,527.0 623.6,529.1 625.2,529.3 626.8,528.1 628.4,527.1 630.0,527.6 631.5,528.6 633.1,527.1 634.7,526.8 636.3,529.2 637.9,529.7 639.5,527.8 641.1,528.0 642.7,528.4 644.3,527.9 645.9,528.3 647.4,528.3 649.0,527.9 650.6,527.9 652.2,527.9 653.8,527.5 655.4,529.0 657.0,529.5 658.6,527.5 660.2,526.5 661.8,527.2 663.3,527.1 664.9,528.0 666.5,528.8 668.1,529.8 669.7,528.7 671.3,527.6 672.9,529.9 674.5,530.8 676.1,527.1 677.7,526.1 679.3,528.6 680.8,528.6 682.4,526.9 684.0,528.0 685.6,528.6 687.2,528.3 688.8,530.0 690.4,529.7 692.0,527.7 693.6,527.2 695.2,526.5 696.7,525.5 698.3,526.4 699.9,526.9 701.5,524.6 703.1,523.4 704.7,524.1 706.3,524.0 707.9,524.6 709.5,525.9 711.1,524.2 712.6,521.5 714.2,522.3 715.8,524.0 717.4,523.6 719.0,523.4 720.6,523.4 722.2,522.0 723.8,522.6 725.4,521.8 727.0,519.9 728.5,520.3 730.1,522.0 731.7,522.2 733.3,522.0 734.9,521.7 736.5,522.6 738.1,522.4 739.7,521.6 741.3,520.5 742.9,520.6 744.4,522.0 746.0,522.2 747.6,521.8 749.2,522.8 750.8,521.7 752.4,521.2 754.0,521.0 755.6,520.4 757.2,521.4 758.8,521.3 760.4,520.4 761.9,520.9 763.5,521.3 765.1,520.8 766.7,520.5 768.3,521.0 769.9,521.7 771.5,519.9 773.1,519.0 774.7,520.3 776.3,521.2 777.8,520.4 779.4,520.5 781.0,519.9 782.6,518.9 784.2,518.9 785.8,519.9 787.4,520.0 789.0,519.7 790.6,519.4 792.2,519.8 793.7,519.7 795.3,519.9 796.9,520.5 798.5,520.4 800.1,520.9 801.7,521.3 803.3,521.9 804.9,523.0 806.5,522.6 808.1,521.7 809.6,522.4 811.2,523.4 812.8,523.0 814.4,521.6 816.0,521.0 817.6,523.1 819.2,523.2 820.8,520.8 822.4,519.2 824.0,520.0 825.5,519.8 827.1,520.4 828.7,518.6 830.3,516.4 831.9,516.0 833.5,516.8" fill="none" stroke="#d0d0ff" stroke-width="0.9" stroke-dasharray="3.33 1.44" stroke-linejoin="round"/>
<polyline points="119.5,508.9 121.1,510.3 122.7,508.5 124.3,511.1 125.9,510.4 127.5,510.5 129.0,516.2 130.6,516.9 132.2,511.7 133.8,513.1 135.4,514.7 137.0,513.8 138.6,512.7 140.2,514.0 141.8,515.5 143.4,517.2 144.9,514.3 146.5,514.7 148.1,518.8 149.7,517.5 151.3,515.7 152.9,518.7 154.5,516.9 156.1,514.5 157.7,514.0 159.3,514.6 160.8,516.1 162.4,515.6 164.0,515.3 165.6,515.6 167.2,514.9 168.8,514.9 170.4,514.9 172.0,513.8 173.6,514.4 175.2,516.0 176.7,515.9 178.3,514.7 179.9,514.5 181.5,514.8 183.1,514.9 184.7,514.6 186.3,513.5 187.9,513.4 189.5,515.5 191.1,517.3 192.6,515.4 194.2,514.3 195.8,515.7 197.4,515.8 199.0,515.3 200.6,515.3 202.2,515.3 203.8,514.9 205.4,514.5 207.0,515.1 208.6,516.4 210.1,516.5 211.7,514.7 213.3,513.6 214.9,515.9 216.5,517.4 218.1,516.3 219.7,515.2 221.3,515.3 222.9,515.8 224.5,515.3 226.0,515.8 227.6,516.9 229.2,516.6 230.8,516.3 232.4,517.7 234.0,517.0 235.6,515.4 237.2,515.8 238.8,516.8 240.4,515.2 241.9,514.5 243.5,516.2 245.1,517.1 246.7,515.5 248.3,514.5 249.9,515.0 251.5,514.7 253.1,514.5 254.7,516.1 256.3,516.5 257.8,515.6 259.4,515.4 261.0,515.5 262.6,515.4 264.2,514.6 265.8,513.6 267.4,515.0 269.0,516.7 270.6,515.7 272.2,514.3 273.7,514.0 275.3,513.5 276.9,514.8 278.5,515.1 280.1,514.4 281.7,514.3 283.3,515.5 284.9,515.6 286.5,516.4 288.1,516.3 289.7,514.8 291.2,513.6 292.8,515.4 294.4,516.6 296.0,515.7 297.6,514.6 299.2,515.2 300.8,516.0 302.4,515.0 304.0,515.9 305.6,516.7 307.1,515.2 308.7,514.8 310.3,515.9 311.9,514.6 313.5,514.9 315.1,516.4 316.7,515.8 318.3,515.4 319.9,516.8 321.5,516.0 323.0,514.4 324.6,514.2 326.2,515.8 327.8,516.2 329.4,514.2 331.0,513.6 332.6,515.5 334.2,514.5 335.8,513.8 337.4,515.2 338.9,515.6 340.5,515.4 342.1,515.1 343.7,513.7 345.3,513.8 346.9,515.7 348.5,516.1 350.1,515.4 351.7,514.4 353.3,514.9 354.8,514.9 356.4,514.2 358.0,515.1 359.6,517.2 361.2,517.9 362.8,516.5 364.4,514.5 366.0,515.1 367.6,517.3 369.2,516.6 370.8,515.4 372.3,517.4 373.9,516.9 375.5,513.4 377.1,515.5 378.7,517.4 380.3,516.2 381.9,516.1 383.5,515.4 385.1,514.4 386.7,515.8 388.2,515.8 389.8,516.4 391.4,516.5 393.0,515.5 394.6,515.4 396.2,517.4 397.8,516.0 399.4,514.9 401.0,516.1 402.6,516.8 404.1,516.1 405.7,517.0 407.3,518.1 408.9,516.3 410.5,513.0 412.1,514.8 413.7,517.1 415.3,517.1 416.9,517.3 418.5,516.1 420.0,515.7 421.6,517.6 423.2,514.9 424.8,515.8 426.4,517.8 428.0,515.0 429.6,515.1 431.2,518.7 432.8,516.0 434.4,515.3 435.9,516.5 437.5,515.1 439.1,513.3 440.7,516.1 442.3,517.2 443.9,517.2 445.5,517.3 447.1,516.6 448.7,515.0 450.3,515.1 451.9,516.1 453.4,515.8 455.0,515.7 456.6,516.2 458.2,515.4 459.8,515.2 461.4,515.7 463.0,515.3 464.6,515.5 466.2,517.0 467.8,517.2 469.3,516.0 470.9,514.5 472.5,514.3 474.1,515.6 475.7,516.4 477.3,515.1 478.9,515.3 480.5,516.3 482.1,514.8 483.7,514.0 485.2,515.0 486.8,515.1 488.4,514.5 490.0,515.7 491.6,515.2 493.2,513.0 494.8,513.2 496.4,515.1 498.0,512.9 499.6,512.3 501.1,515.0 502.7,515.7 504.3,513.3 505.9,513.4 507.5,514.1 509.1,513.9 510.7,512.5 512.3,512.7 513.9,513.8 515.5,514.2 517.1,513.9 518.6,514.4 520.2,514.8 521.8,514.3 523.4,513.1 525.0,512.6 526.6,514.1 528.2,515.1 529.8,515.0 531.4,513.6 533.0,512.4 534.5,514.2 536.1,515.9 537.7,513.8 539.3,512.8 540.9,513.7 542.5,514.2 544.1,514.1 545.7,514.4 547.3,514.5 548.9,514.1 550.4,513.0 552.0,514.0 553.6,514.8 555.2,514.1 556.8,511.9 558.4,511.9 560.0,514.5 561.6,514.3 563.2,511.2 564.8,511.5 566.3,513.7 567.9,514.3 569.5,514.0 571.1,513.7 572.7,512.0 574.3,512.4 575.9,514.2 577.5,513.5 579.1,513.5 580.7,513.9 582.2,512.1 583.8,512.0 585.4,514.6 587.0,514.3 588.6,513.3 590.2,513.0 591.8,512.8 593.4,512.8 595.0,512.1 596.6,511.0 598.2,513.0 599.7,513.8 601.3,512.2 602.9,513.1 604.5,513.9 606.1,511.8 607.7,511.0 609.3,511.2 610.9,511.6 612.5,513.2 614.1,512.9 615.6,510.5 617.2,512.7 618.8,514.7 620.4,512.5 622.0,510.9 623.6,512.1 625.2,512.4 626.8,512.2 628.4,511.1 630.0,511.6 631.5,513.3 633.1,511.9 634.7,511.0 636.3,512.9 637.9,513.1 639.5,511.6 641.1,512.1 642.7,512.7 644.3,511.0 645.9,510.5 647.4,511.6 649.0,512.2 650.6,511.7 652.2,511.3 653.8,510.9 655.4,512.7 657.0,513.2 658.6,511.2 660.2,510.3 661.8,511.6 663.3,510.9 664.9,511.0 666.5,512.6 668.1,513.2 669.7,512.1 671.3,511.9 672.9,513.8 674.5,514.1 676.1,511.4 677.7,510.3 679.3,512.1 680.8,511.8 682.4,510.4 684.0,511.2 685.6,511.3 687.2,510.5 688.8,511.7 690.4,511.5 692.0,511.0 693.6,511.1 695.2,510.4 696.7,509.9 698.3,510.8 699.9,511.1 701.5,509.5 703.1,509.3 704.7,509.8 706.3,509.1 707.9,509.9 709.5,511.4 711.1,510.2 712.6,507.8 714.2,508.2 715.8,510.0 717.4,510.1 719.0,509.3 720.6,509.6 722.2,508.9 723.8,508.9 725.4,508.0 727.0,506.7 728.5,507.8 730.1,508.9 731.7,508.4 733.3,508.4 734.9,508.6 736.5,508.8 738.1,508.6 739.7,508.1 741.3,507.3 742.9,507.3 744.4,508.5 746.0,508.9 747.6,508.6 749.2,509.8 750.8,509.0 752.4,508.3 754.0,508.1 755.6,507.7 757.2,508.2 758.8,507.7 760.4,507.3 761.9,508.6 763.5,508.8 765.1,508.1 766.7,507.9 768.3,508.8 769.9,509.5 771.5,507.3 773.1,506.5 774.7,508.6 776.3,509.2 777.8,508.0 779.4,508.6 781.0,508.2 782.6,506.9 784.2,506.9 785.8,508.2 787.4,508.5 789.0,508.1 790.6,507.6 792.2,507.7 793.7,507.7 795.3,508.2 796.9,509.0 798.5,508.7 800.1,509.0 801.7,509.5 803.3,509.6 804.9,510.2 806.5,510.4 808.1,509.8 809.6,510.3 811.2,510.7 812.8,510.5 814.4,509.9 816.0,508.8 817.6,510.2 819.2,510.4 820.8,509.0 822.4,508.3 824.0,508.3 825.5,507.5 827.1,508.4 828.7,506.3 830.3,503.9 831.9,504.0 833.5,504.9" fill="none" stroke="#9a9aff" stroke-width="1.1" stroke-dasharray="4.07 1.76" stroke-linejoin="round"/>
<polyline points="119.5,475.9 121.1,477.6 122.7,474.2 124.3,476.5 125.9,478.1 127.5,477.9 129.0,481.9 130.6,485.0 132.2,481.2 133.8,480.0 135.4,481.2 137.0,482.0 138.6,480.3 140.2,480.2 141.8,482.3 143.4,484.6 144.9,482.1 146.5,481.8 148.1,485.2 149.7,484.7 151.3,483.2 152.9,484.9 154.5,483.2 156.1,481.0 157.7,480.0 159.3,481.0 160.8,483.7 162.4,483.0 164.0,482.1 165.6,482.5 167.2,482.4 168.8,482.4 170.4,482.4 172.0,481.4 173.6,482.0 175.2,483.8 176.7,484.1 178.3,483.1 179.9,483.1 181.5,483.6 183.1,484.0 184.7,483.6 186.3,481.6 187.9,481.6 189.5,484.4 191.1,486.0 192.6,484.1 194.2,484.0 195.8,485.9 197.4,485.6 199.0,484.7 200.6,485.1 202.2,485.4 203.8,484.7 205.4,484.6 207.0,485.8 208.6,486.5 210.1,486.6 211.7,486.0 213.3,485.1 214.9,486.7 216.5,488.3 218.1,487.3 219.7,486.7 221.3,486.8 222.9,487.3 224.5,487.3 226.0,487.8 227.6,488.9 229.2,488.2 230.8,487.5 232.4,489.1 234.0,489.1 235.6,487.7 237.2,487.6 238.8,488.0 240.4,486.6 241.9,486.1 243.5,487.8 245.1,488.7 246.7,487.3 248.3,486.6 249.9,486.5 251.5,486.4 253.1,487.0 254.7,487.9 256.3,487.9 257.8,487.5 259.4,487.4 261.0,487.4 262.6,487.3 264.2,486.7 265.8,485.8 267.4,487.6 269.0,489.5 270.6,487.9 272.2,486.1 273.7,486.5 275.3,486.7 276.9,487.5 278.5,487.2 280.1,486.7 281.7,486.8 283.3,487.7 284.9,488.2 286.5,488.8 288.1,488.3 289.7,487.3 291.2,486.7 292.8,488.5 294.4,489.9 296.0,488.7 297.6,486.9 299.2,488.2 300.8,489.1 302.4,487.3 304.0,488.0 305.6,489.5 307.1,488.0 308.7,487.8 310.3,489.1 311.9,488.3 313.5,488.4 315.1,489.4 316.7,488.9 318.3,489.2 319.9,489.9 321.5,489.4 323.0,488.4 324.6,488.3 326.2,489.3 327.8,489.5 329.4,487.8 331.0,488.2 332.6,489.7 334.2,487.8 335.8,487.6 337.4,489.2 338.9,489.4 340.5,490.0 342.1,489.6 343.7,487.3 345.3,488.0 346.9,489.2 348.5,489.5 350.1,489.7 351.7,489.1 353.3,488.5 354.8,488.3 356.4,487.9 358.0,489.0 359.6,490.7 361.2,491.8 362.8,490.7 364.4,489.1 366.0,489.9 367.6,492.1 369.2,490.1 370.8,487.4 372.3,490.3 373.9,492.0 375.5,488.8 377.1,489.5 378.7,490.9 380.3,490.1 381.9,490.1 383.5,489.3 385.1,488.9 386.7,490.3 388.2,490.0 389.8,490.1 391.4,490.6 393.0,489.5 394.6,488.9 396.2,491.0 397.8,490.0 399.4,489.1 401.0,489.7 402.6,489.9 404.1,489.7 405.7,490.9 407.3,491.7 408.9,490.4 410.5,487.1 412.1,487.8 413.7,490.1 415.3,491.5 416.9,491.8 418.5,489.6 420.0,488.8 421.6,491.1 423.2,488.5 424.8,488.5 426.4,490.9 428.0,489.7 429.6,489.3 431.2,492.0 432.8,490.2 434.4,488.9 435.9,490.0 437.5,489.4 439.1,487.7 440.7,489.4 442.3,490.5 443.9,490.2 445.5,490.0 447.1,489.8 448.7,488.6 450.3,487.7 451.9,489.1 453.4,489.7 455.0,489.2 456.6,489.4 458.2,488.8 459.8,488.6 461.4,489.5 463.0,489.5 464.6,489.1 466.2,489.9 467.8,489.9 469.3,488.8 470.9,487.9 472.5,487.5 474.1,488.1 475.7,489.5 477.3,488.7 478.9,488.8 480.5,489.9 482.1,488.2 483.7,487.7 485.2,489.3 486.8,488.6 488.4,488.3 490.0,490.3 491.6,489.9 493.2,487.7 494.8,487.6 496.4,489.1 498.0,488.0 499.6,487.6 501.1,488.5 502.7,489.1 504.3,488.6 505.9,489.0 507.5,488.7 509.1,488.2 510.7,487.0 512.3,487.3 513.9,487.8 515.5,488.3 517.1,488.3 518.6,488.2 520.2,488.2 521.8,488.7 523.4,488.0 525.0,487.5 526.6,487.9 528.2,488.8 529.8,490.1 531.4,488.6 533.0,486.3 534.5,488.2 536.1,490.0 537.7,487.9 539.3,487.0 540.9,487.6 542.5,487.9 544.1,487.5 545.7,488.5 547.3,489.7 548.9,488.3 550.4,486.5 552.0,488.0 553.6,489.1 555.2,488.6 556.8,486.7 558.4,486.2 560.0,488.2 561.6,488.2 563.2,485.8 564.8,485.8 566.3,487.6 567.9,488.2 569.5,488.3 571.1,488.1 572.7,486.3 574.3,486.1 575.9,488.0 577.5,487.4 579.1,487.1 580.7,487.6 582.2,486.1 583.8,485.8 585.4,488.2 587.0,488.2 588.6,487.6 590.2,487.2 591.8,486.4 593.4,486.0 595.0,485.7 596.6,485.0 598.2,486.1 599.7,487.0 601.3,486.0 602.9,486.0 604.5,486.5 606.1,484.9 607.7,484.0 609.3,484.4 610.9,485.2 612.5,486.6 614.1,486.1 615.6,483.6 617.2,485.2 618.8,487.5 620.4,485.4 622.0,483.3 623.6,485.2 625.2,486.2 626.8,484.6 628.4,483.0 630.0,483.9 631.5,485.7 633.1,484.6 634.7,483.7 636.3,485.2 637.9,485.7 639.5,484.2 641.1,484.0 642.7,484.7 644.3,483.9 645.9,483.8 647.4,484.1 649.0,484.2 650.6,483.6 652.2,483.5 653.8,483.3 655.4,485.0 657.0,485.1 658.6,483.3 660.2,482.6 661.8,483.8 663.3,483.0 664.9,483.0 666.5,484.1 668.1,485.3 669.7,484.2 671.3,483.6 672.9,485.8 674.5,486.4 676.1,483.0 677.7,482.1 679.3,483.8 680.8,483.6 682.4,482.3 684.0,483.4 685.6,483.6 687.2,482.6 688.8,483.9 690.4,484.4 692.0,483.3 693.6,483.0 695.2,482.8 696.7,482.4 698.3,483.3 699.9,483.6 701.5,482.1 703.1,481.7 704.7,482.4 706.3,481.5 707.9,482.2 709.5,484.2 711.1,482.8 712.6,480.4 714.2,481.3 715.8,482.4 717.4,481.9 719.0,481.9 720.6,482.2 722.2,482.1 723.8,481.9 725.4,480.0 727.0,478.6 728.5,480.3 730.1,482.0 731.7,481.7 733.3,481.6 734.9,481.6 736.5,481.9 738.1,481.8 739.7,481.2 741.3,480.8 742.9,481.5 744.4,481.6 746.0,481.0 747.6,481.4 749.2,483.1 750.8,482.5 752.4,482.0 754.0,481.2 755.6,480.4 757.2,481.9 758.8,481.8 760.4,480.8 761.9,481.5 763.5,482.0 765.1,481.5 766.7,481.6 768.3,482.4 769.9,483.0 771.5,480.8 773.1,479.6 774.7,481.8 776.3,483.4 777.8,481.9 779.4,481.6 781.0,481.6 782.6,481.0 784.2,480.8 785.8,481.9 787.4,482.5 789.0,481.9 790.6,481.8 792.2,482.2 793.7,482.3 795.3,483.1 796.9,483.6 798.5,482.9 800.1,483.9 801.7,484.8 803.3,485.0 804.9,485.0 806.5,485.1 808.1,485.1 809.6,485.6 811.2,486.1 812.8,486.1 814.4,485.1 816.0,484.3 817.6,485.7 819.2,486.1 820.8,484.6 822.4,483.3 824.0,483.1 825.5,482.9 827.1,483.8 828.7,481.8 830.3,479.3 831.9,479.3 833.5,480.0" fill="none" stroke="#7878ff" stroke-width="1.35" stroke-dasharray="5.00 2.16" stroke-linejoin="round"/>
<polyline points="119.5,84.8 121.1,81.5 122.7,77.2 124.3,85.2 125.9,85.1 127.5,84.2 129.0,93.4 130.6,96.2 132.2,89.1 133.8,88.9 135.4,88.7 137.0,88.6 138.6,86.8 140.2,88.4 141.8,93.5 143.4,97.1 144.9,93.0 146.5,93.8 148.1,99.5 149.7,99.1 151.3,97.0 152.9,99.6 154.5,95.1 156.1,91.3 157.7,91.2 159.3,92.5 160.8,95.4 162.4,95.3 164.0,94.8 165.6,95.5 167.2,95.6 168.8,95.5 170.4,95.0 172.0,93.3 173.6,94.6 175.2,98.0 176.7,98.3 178.3,94.6 179.9,93.9 181.5,95.9 183.1,96.8 184.7,95.2 186.3,92.4 187.9,94.1 189.5,98.6 191.1,100.4 192.6,97.7 194.2,97.9 195.8,100.9 197.4,101.0 199.0,99.9 200.6,101.8 202.2,103.3 203.8,102.1 205.4,101.9 207.0,103.6 208.6,105.4 210.1,107.3 211.7,106.5 213.3,103.4 214.9,105.5 216.5,107.8 218.1,105.7 219.7,103.4 221.3,103.6 222.9,105.0 224.5,104.1 226.0,104.2 227.6,106.6 229.2,106.3 230.8,105.2 232.4,107.3 234.0,105.6 235.6,102.3 237.2,101.6 238.8,101.7 240.4,97.6 241.9,95.5 243.5,97.8 245.1,99.3 246.7,97.2 248.3,95.0 249.9,93.9 251.5,93.3 253.1,93.2 254.7,95.7 256.3,95.9 257.8,92.7 259.4,91.8 261.0,92.6 262.6,91.7 264.2,90.3 265.8,88.7 267.4,90.2 269.0,92.9 270.6,90.7 272.2,87.4 273.7,85.9 275.3,85.8 276.9,89.0 278.5,87.8 280.1,84.4 281.7,84.7 283.3,87.6 284.9,87.6 286.5,88.0 288.1,86.5 289.7,84.9 291.2,84.3 292.8,86.4 294.4,87.3 296.0,85.2 297.6,82.6 299.2,83.9 300.8,85.1 302.4,82.5 304.0,85.0 305.6,88.2 307.1,84.4 308.7,82.3 310.3,86.7 311.9,86.7 313.5,85.0 315.1,85.8 316.7,85.4 318.3,85.8 319.9,87.8 321.5,86.7 323.0,84.5 324.6,83.7 326.2,84.5 327.8,86.4 329.4,84.1 331.0,82.5 332.6,85.2 334.2,83.1 335.8,82.0 337.4,84.8 338.9,85.0 340.5,84.6 342.1,84.6 343.7,82.9 345.3,83.3 346.9,84.4 348.5,84.1 350.1,83.6 351.7,81.6 353.3,82.7 354.8,83.1 356.4,81.7 358.0,83.5 359.6,86.5 361.2,88.0 362.8,86.2 364.4,82.3 366.0,83.8 367.6,88.3 369.2,85.0 370.8,81.5 372.3,85.3 373.9,86.5 375.5,81.8 377.1,84.4 378.7,86.1 380.3,83.9 381.9,84.6 383.5,83.3 385.1,80.8 386.7,83.3 388.2,84.3 389.8,85.2 391.4,84.5 393.0,82.4 394.6,83.6 396.2,87.1 397.8,84.5 399.4,83.0 401.0,84.4 402.6,84.6 404.1,83.6 405.7,85.0 407.3,86.4 408.9,84.8 410.5,80.7 412.1,82.6 413.7,85.5 415.3,85.1 416.9,85.3 418.5,84.5 420.0,84.2 421.6,86.6 423.2,82.2 424.8,82.6 426.4,85.7 428.0,83.6 429.6,84.4 431.2,87.9 432.8,83.6 434.4,83.8 435.9,86.0 437.5,83.3 439.1,81.6 440.7,85.5 442.3,85.8 443.9,85.1 445.5,86.0 447.1,86.4 448.7,85.0 450.3,82.9 451.9,84.4 453.4,86.7 455.0,86.6 456.6,85.6 458.2,83.9 459.8,83.8 461.4,85.7 463.0,86.4 464.6,86.1 466.2,87.0 467.8,87.6 469.3,86.4 470.9,84.0 472.5,84.2 474.1,86.9 475.7,86.6 477.3,84.2 478.9,86.2 480.5,88.5 482.1,84.6 483.7,83.5 485.2,86.6 486.8,87.5 488.4,86.7 490.0,88.2 491.6,87.2 493.2,85.2 494.8,85.1 496.4,87.2 498.0,84.5 499.6,84.1 501.1,87.0 502.7,88.6 504.3,85.9 505.9,86.3 507.5,87.4 509.1,88.7 510.7,85.9 512.3,85.0 513.9,86.8 515.5,87.9 517.1,87.4 518.6,88.3 520.2,89.6 521.8,90.1 523.4,87.3 525.0,85.5 526.6,89.0 528.2,91.7 529.8,93.0 531.4,90.2 533.0,86.2 534.5,88.8 536.1,93.6 537.7,91.1 539.3,89.2 540.9,89.4 542.5,90.1 544.1,91.1 545.7,92.6 547.3,92.7 548.9,91.9 550.4,91.0 552.0,93.0 553.6,93.1 555.2,91.3 556.8,89.2 558.4,90.2 560.0,93.9 561.6,93.8 563.2,89.6 564.8,89.3 566.3,92.9 567.9,94.7 569.5,94.3 571.1,92.9 572.7,90.3 574.3,90.9 575.9,93.8 577.5,92.3 579.1,92.6 580.7,94.5 582.2,92.4 583.8,90.2 585.4,94.0 587.0,95.3 588.6,94.2 590.2,93.2 591.8,92.1 593.4,92.8 595.0,93.3 596.6,91.1 598.2,92.9 599.7,95.5 601.3,93.7 602.9,94.5 604.5,95.9 606.1,93.4 607.7,91.7 609.3,92.3 610.9,94.3 612.5,97.9 614.1,96.9 615.6,92.3 617.2,95.8 618.8,100.2 620.4,97.3 622.0,95.2 623.6,98.0 625.2,99.3 626.8,99.3 628.4,97.5 630.0,97.8 631.5,101.2 633.1,100.3 634.7,98.5 636.3,101.7 637.9,103.3 639.5,100.9 641.1,100.6 642.7,101.9 644.3,100.7 645.9,100.8 647.4,101.8 649.0,102.5 650.6,102.5 652.2,102.7 653.8,102.2 655.4,104.8 657.0,105.6 658.6,103.3 660.2,102.5 661.8,104.0 663.3,103.9 664.9,105.0 666.5,106.6 668.1,107.9 669.7,106.8 671.3,106.7 672.9,110.5 674.5,112.0 676.1,106.7 677.7,104.9 679.3,109.1 680.8,109.8 682.4,107.6 684.0,109.6 685.6,110.7 687.2,110.1 688.8,112.4 690.4,112.9 692.0,112.3 693.6,113.0 695.2,112.6 696.7,112.2 698.3,113.8 699.9,115.6 701.5,113.0 703.1,112.2 704.7,114.0 706.3,114.2 707.9,116.1 709.5,119.2 711.1,116.5 712.6,113.0 714.2,115.1 715.8,118.4 717.4,118.5 719.0,118.2 720.6,119.1 722.2,118.9 723.8,119.3 725.4,117.2 727.0,115.4 728.5,118.4 730.1,120.8 731.7,120.9 733.3,121.1 734.9,120.6 736.5,121.8 738.1,123.6 739.7,122.4 741.3,119.9 742.9,121.7 744.4,124.4 746.0,123.5 747.6,123.6 749.2,126.2 750.8,124.8 752.4,124.5 754.0,123.6 755.6,122.3 757.2,124.4 758.8,124.3 760.4,123.8 761.9,126.1 763.5,125.8 765.1,124.3 766.7,125.0 768.3,127.1 769.9,127.4 771.5,123.0 773.1,120.6 774.7,123.6 776.3,125.6 777.8,123.4 779.4,123.1 781.0,122.6 782.6,120.2 784.2,119.8 785.8,121.5 787.4,122.2 789.0,121.9 790.6,120.6 792.2,120.0 793.7,120.8 795.3,122.5 796.9,123.2 798.5,122.0 800.1,124.1 801.7,125.5 803.3,125.0 804.9,125.4 806.5,126.2 808.1,126.5 809.6,128.4 811.2,129.5 812.8,129.8 814.4,130.0 816.0,128.7 817.6,131.2 819.2,131.4 820.8,127.1 822.4,125.9 824.0,127.7 825.5,126.3 827.1,126.5 828.7,123.9 830.3,120.4 831.9,120.5 833.5,122.0" fill="none" stroke="#0000aa" stroke-width="0.8" stroke-dasharray="2.96 0.92" stroke-linejoin="round"/>
<polyline points="119.5,199.9 121.1,201.8 122.7,196.2 124.3,201.3 125.9,201.9 127.5,201.0 129.0,210.5 130.6,213.4 132.2,205.6 133.8,204.9 135.4,207.9 137.0,209.9 138.6,206.9 140.2,206.0 141.8,210.2 143.4,214.3 144.9,210.9 146.5,212.9 148.1,219.3 149.7,217.5 151.3,215.7 152.9,219.7 154.5,215.0 156.1,211.6 157.7,212.5 159.3,213.7 160.8,215.8 162.4,215.5 164.0,215.9 165.6,217.9 167.2,218.4 168.8,218.4 170.4,218.1 172.0,217.2 173.6,219.0 175.2,222.1 176.7,222.6 178.3,220.0 179.9,219.4 181.5,222.0 183.1,224.0 184.7,223.2 186.3,221.7 187.9,223.7 189.5,227.6 191.1,230.2 192.6,228.0 194.2,227.9 195.8,230.2 197.4,229.8 199.0,229.1 200.6,230.4 202.2,231.0 203.8,230.4 205.4,230.3 207.0,231.4 208.6,232.6 210.1,233.1 211.7,231.8 213.3,229.9 214.9,232.5 216.5,235.1 218.1,233.2 219.7,231.5 221.3,232.3 222.9,233.3 224.5,232.6 226.0,234.0 227.6,236.3 229.2,234.9 230.8,233.4 232.4,235.3 234.0,234.1 235.6,231.4 237.2,232.0 238.8,233.6 240.4,230.7 241.9,229.2 243.5,231.3 245.1,232.2 246.7,230.0 248.3,229.2 249.9,230.1 251.5,229.8 253.1,229.2 254.7,231.8 256.3,232.7 257.8,230.8 259.4,230.3 261.0,231.1 262.6,230.8 264.2,229.9 265.8,228.8 267.4,230.6 269.0,234.0 270.6,232.8 272.2,228.9 273.7,228.1 275.3,229.2 276.9,231.1 278.5,230.4 280.1,229.7 281.7,230.3 283.3,231.4 284.9,231.9 286.5,234.8 288.1,234.0 289.7,231.1 291.2,230.8 292.8,233.9 294.4,234.0 296.0,231.9 297.6,230.5 299.2,232.0 300.8,233.3 302.4,230.8 304.0,231.9 305.6,234.7 307.1,232.1 308.7,230.4 310.3,233.9 311.9,233.1 313.5,230.5 315.1,232.0 316.7,232.9 318.3,232.5 319.9,232.2 321.5,231.0 323.0,229.7 324.6,229.4 326.2,230.0 327.8,230.5 329.4,228.2 331.0,227.9 332.6,229.8 334.2,227.7 335.8,227.2 337.4,229.3 338.9,229.8 340.5,229.6 342.1,229.2 343.7,227.0 345.3,227.0 346.9,229.3 348.5,229.4 350.1,228.1 351.7,227.3 353.3,227.5 354.8,226.7 356.4,225.8 358.0,226.9 359.6,230.3 361.2,232.2 362.8,228.9 364.4,224.9 366.0,228.5 367.6,231.8 369.2,227.8 370.8,225.2 372.3,229.7 373.9,230.6 375.5,225.5 377.1,226.5 378.7,229.5 380.3,228.5 381.9,226.9 383.5,225.4 385.1,224.7 386.7,226.0 388.2,226.2 389.8,227.8 391.4,227.0 393.0,224.7 394.6,225.5 396.2,229.4 397.8,227.4 399.4,224.9 401.0,225.4 402.6,226.7 404.1,227.0 405.7,228.4 407.3,229.2 408.9,226.9 410.5,222.5 412.1,224.9 413.7,227.8 415.3,226.7 416.9,227.2 418.5,226.8 420.0,226.9 421.6,228.0 423.2,222.8 424.8,222.3 426.4,225.8 428.0,224.3 429.6,225.5 431.2,228.5 432.8,224.5 434.4,223.9 435.9,226.0 437.5,224.2 439.1,221.9 440.7,225.0 442.3,226.8 443.9,226.3 445.5,225.2 447.1,225.3 448.7,224.2 450.3,222.8 451.9,225.0 453.4,226.1 455.0,224.7 456.6,224.5 458.2,223.3 459.8,222.5 461.4,223.6 463.0,223.4 464.6,222.9 466.2,224.7 467.8,225.0 469.3,223.9 470.9,221.6 472.5,220.6 474.1,221.7 475.7,222.2 477.3,220.3 478.9,221.9 480.5,223.1 482.1,219.5 483.7,219.4 485.2,221.6 486.8,220.7 488.4,219.5 490.0,221.4 491.6,221.4 493.2,218.9 494.8,217.6 496.4,219.5 498.0,217.4 499.6,216.9 501.1,219.8 502.7,221.2 504.3,218.0 505.9,219.2 507.5,220.5 509.1,219.4 510.7,216.5 512.3,217.3 513.9,217.9 515.5,218.8 517.1,219.5 518.6,220.1 520.2,220.0 521.8,220.4 523.4,218.7 525.0,217.5 526.6,218.8 528.2,220.8 529.8,222.1 531.4,220.0 533.0,216.3 534.5,218.5 536.1,221.3 537.7,219.7 539.3,218.3 540.9,219.2 542.5,219.1 544.1,218.9 545.7,220.1 547.3,221.3 548.9,218.7 550.4,217.1 552.0,220.5 553.6,219.9 555.2,217.1 556.8,215.7 558.4,215.7 560.0,218.0 561.6,217.7 563.2,213.1 564.8,213.7 566.3,217.1 567.9,217.7 569.5,217.1 571.1,216.2 572.7,213.5 574.3,213.0 575.9,216.5 577.5,216.9 579.1,215.6 580.7,215.1 582.2,212.8 583.8,212.1 585.4,215.9 587.0,215.8 588.6,214.6 590.2,214.1 591.8,213.0 593.4,213.5 595.0,213.0 596.6,210.4 598.2,212.6 599.7,214.6 601.3,212.8 602.9,213.4 604.5,214.1 606.1,210.9 607.7,209.2 609.3,209.8 610.9,211.4 612.5,214.3 614.1,213.7 615.6,208.9 617.2,211.3 618.8,215.1 620.4,212.0 622.0,209.4 623.6,212.1 625.2,213.2 626.8,212.4 628.4,209.8 630.0,210.0 631.5,212.6 633.1,210.6 634.7,209.3 636.3,213.0 637.9,212.5 639.5,209.3 641.1,210.2 642.7,211.2 644.3,208.9 645.9,208.5 647.4,208.9 649.0,208.4 650.6,208.1 652.2,208.2 653.8,207.0 655.4,208.6 657.0,209.7 658.6,207.6 660.2,205.6 661.8,205.8 663.3,205.4 664.9,206.2 666.5,206.7 668.1,207.6 669.7,206.6 671.3,205.4 672.9,207.5 674.5,208.7 676.1,204.0 677.7,202.0 679.3,204.6 680.8,203.8 682.4,201.0 684.0,203.0 685.6,203.6 687.2,201.6 688.8,204.3 690.4,205.3 692.0,203.2 693.6,203.8 695.2,203.9 696.7,202.8 698.3,204.5 699.9,206.3 701.5,203.0 703.1,202.0 704.7,203.7 706.3,203.1 707.9,204.2 709.5,207.1 711.1,204.7 712.6,200.8 714.2,201.3 715.8,203.5 717.4,203.5 719.0,203.8 720.6,204.5 722.2,203.2 723.8,203.3 725.4,201.7 727.0,199.8 728.5,202.6 730.1,205.5 731.7,206.1 733.3,206.5 734.9,205.1 736.5,206.6 738.1,208.8 739.7,207.7 741.3,206.1 742.9,208.2 744.4,210.4 746.0,210.5 747.6,211.1 749.2,213.8 750.8,213.7 752.4,213.7 754.0,213.3 755.6,213.0 757.2,215.5 758.8,215.9 760.4,215.6 761.9,217.6 763.5,217.9 765.1,218.0 766.7,219.3 768.3,221.2 769.9,222.4 771.5,220.0 773.1,219.8 774.7,223.3 776.3,224.9 777.8,223.3 779.4,225.1 781.0,226.2 782.6,224.6 784.2,224.1 785.8,227.4 787.4,229.7 789.0,230.2 790.6,229.6 792.2,229.7 793.7,231.1 795.3,233.2 796.9,233.9 798.5,233.4 800.1,235.0 801.7,237.0 803.3,238.5 804.9,239.5 806.5,239.5 808.1,239.3 809.6,241.5 811.2,243.4 812.8,242.6 814.4,240.2 816.0,239.6 817.6,242.8 819.2,242.1 820.8,238.5 822.4,237.7 824.0,238.6 825.5,238.6 827.1,239.9 828.7,236.7 830.3,233.2 831.9,233.2 833.5,234.6" fill="none" stroke="#000084" stroke-width="1.0" stroke-dasharray="3.70 1.15" stroke-linejoin="round"/>
<polyline points="119.5,294.5 121.1,299.0 122.7,294.2 124.3,299.3 125.9,301.1 127.5,299.8 129.0,309.0 130.6,311.9 132.2,304.4 133.8,304.7 135.4,306.7 137.0,306.3 138.6,304.3 140.2,304.7 141.8,307.9 143.4,311.6 144.9,307.6 146.5,307.4 148.1,312.9 149.7,312.1 151.3,309.5 152.9,312.8 154.5,310.7 156.1,308.3 157.7,307.4 159.3,307.7 160.8,310.2 162.4,309.5 164.0,309.9 165.6,311.1 167.2,310.6 168.8,309.8 170.4,309.3 172.0,308.1 173.6,310.2 175.2,313.4 176.7,313.9 178.3,311.4 179.9,311.2 181.5,312.2 183.1,312.2 184.7,311.6 186.3,309.8 187.9,309.5 189.5,312.1 191.1,314.1 192.6,311.8 194.2,311.5 195.8,313.3 197.4,312.8 199.0,311.7 200.6,312.5 202.2,312.8 203.8,312.0 205.4,312.2 207.0,313.6 208.6,314.8 210.1,314.9 211.7,313.8 213.3,312.0 214.9,314.8 216.5,316.9 218.1,314.7 219.7,313.3 221.3,314.0 222.9,315.0 224.5,316.1 226.0,316.8 227.6,316.8 229.2,315.8 230.8,316.3 232.4,319.5 234.0,318.8 235.6,315.7 237.2,315.5 238.8,316.2 240.4,313.3 241.9,312.0 243.5,315.2 245.1,316.4 246.7,313.5 248.3,312.6 249.9,313.3 251.5,312.2 253.1,311.9 254.7,314.2 256.3,314.5 257.8,312.6 259.4,311.9 261.0,312.1 262.6,311.4 264.2,310.6 265.8,309.8 267.4,311.3 269.0,313.9 270.6,312.8 272.2,310.3 273.7,309.3 275.3,308.8 276.9,310.9 278.5,310.7 280.1,308.4 281.7,307.8 283.3,309.4 284.9,309.7 286.5,311.1 288.1,311.0 289.7,308.3 291.2,306.2 292.8,309.3 294.4,311.5 296.0,308.9 297.6,306.4 299.2,308.5 300.8,310.0 302.4,306.7 304.0,307.3 305.6,310.6 307.1,307.9 308.7,305.9 310.3,308.9 311.9,308.7 313.5,308.0 315.1,309.0 316.7,308.7 318.3,308.9 319.9,309.0 321.5,307.2 323.0,306.5 324.6,306.6 326.2,306.8 327.8,306.9 329.4,304.8 331.0,305.0 332.6,307.4 334.2,304.6 335.8,303.3 337.4,305.3 338.9,305.3 340.5,306.1 342.1,305.7 343.7,302.7 345.3,302.1 346.9,304.1 348.5,304.6 350.1,304.1 351.7,302.7 353.3,302.8 354.8,302.6 356.4,300.9 358.0,300.8 359.6,304.4 361.2,306.3 362.8,303.4 364.4,300.4 366.0,302.5 367.6,306.0 369.2,303.3 370.8,300.0 372.3,304.3 373.9,305.8 375.5,300.6 377.1,302.7 378.7,305.6 380.3,303.3 381.9,302.4 383.5,301.8 385.1,300.9 386.7,302.8 388.2,303.0 389.8,304.2 391.4,304.4 393.0,302.7 394.6,303.1 396.2,306.1 397.8,303.7 399.4,302.3 401.0,303.5 402.6,304.3 404.1,304.5 405.7,306.4 407.3,307.2 408.9,304.7 410.5,300.7 412.1,303.3 413.7,306.2 415.3,306.0 416.9,306.3 418.5,305.0 420.0,305.3 421.6,307.1 423.2,302.5 424.8,303.7 426.4,306.8 428.0,303.8 429.6,305.1 431.2,309.6 432.8,304.8 434.4,304.3 435.9,307.5 437.5,305.4 439.1,302.7 440.7,306.7 442.3,308.1 443.9,308.5 445.5,307.3 447.1,306.1 448.7,305.9 450.3,305.4 451.9,306.5 453.4,308.1 455.0,307.1 456.6,307.2 458.2,306.6 459.8,306.0 461.4,306.5 463.0,306.2 464.6,305.5 466.2,306.9 467.8,309.0 469.3,308.7 470.9,305.2 472.5,303.9 474.1,306.3 475.7,307.7 477.3,305.1 478.9,305.2 480.5,307.2 482.1,306.0 483.7,305.2 485.2,305.7 486.8,305.4 488.4,305.7 490.0,307.2 491.6,307.2 493.2,305.1 494.8,304.4 496.4,306.5 498.0,304.5 499.6,303.4 501.1,305.3 502.7,307.3 504.3,305.8 505.9,305.4 507.5,305.8 509.1,305.7 510.7,303.4 512.3,303.2 513.9,304.4 515.5,305.3 517.1,304.2 518.6,303.6 520.2,305.0 521.8,306.7 523.4,305.6 525.0,303.4 526.6,304.0 528.2,305.8 529.8,307.5 531.4,305.3 533.0,301.9 534.5,304.4 536.1,308.0 537.7,305.5 539.3,304.0 540.9,305.2 542.5,305.8 544.1,304.7 545.7,305.2 547.3,306.1 548.9,304.5 550.4,302.7 552.0,304.5 553.6,304.5 555.2,304.2 556.8,302.6 558.4,302.8 560.0,306.5 561.6,306.4 563.2,302.6 564.8,304.2 566.3,307.1 567.9,307.6 569.5,307.7 571.1,307.9 572.7,306.0 574.3,306.2 575.9,309.8 577.5,309.6 579.1,308.7 580.7,309.8 582.2,308.2 583.8,307.1 585.4,310.3 587.0,311.4 588.6,311.3 590.2,311.0 591.8,310.3 593.4,309.9 595.0,309.1 596.6,307.6 598.2,310.1 599.7,312.0 601.3,310.1 602.9,310.7 604.5,312.1 606.1,309.6 607.7,308.5 609.3,309.3 610.9,309.7 612.5,311.6 614.1,311.8 615.6,309.1 617.2,311.2 618.8,313.8 620.4,311.0 622.0,309.0 623.6,311.3 625.2,312.0 626.8,311.5 628.4,310.2 630.0,310.5 631.5,312.6 633.1,310.7 634.7,309.1 636.3,312.4 637.9,313.2 639.5,311.3 641.1,311.5 642.7,312.3 644.3,311.5 645.9,311.5 647.4,311.5 649.0,312.0 650.6,312.2 652.2,311.4 653.8,310.1 655.4,312.2 657.0,312.1 658.6,307.9 660.2,306.0 661.8,307.5 663.3,307.2 664.9,307.4 666.5,307.8 668.1,308.6 669.7,307.5 671.3,306.4 672.9,308.6 674.5,309.9 676.1,305.0 677.7,302.7 679.3,304.7 680.8,305.0 682.4,303.5 684.0,304.4 685.6,304.0 687.2,302.9 688.8,304.6 690.4,304.9 692.0,303.7 693.6,303.5 695.2,302.6 696.7,301.6 698.3,303.1 699.9,304.1 701.5,301.2 703.1,299.8 704.7,300.5 706.3,299.8 707.9,301.5 709.5,303.1 711.1,299.9 712.6,296.9 714.2,298.4 715.8,299.9 717.4,299.2 719.0,298.9 720.6,299.5 722.2,298.5 723.8,298.3 725.4,296.9 727.0,295.1 728.5,296.8 730.1,298.5 731.7,298.9 733.3,299.3 734.9,298.7 736.5,299.1 738.1,299.7 739.7,298.8 741.3,297.7 742.9,298.4 744.4,299.7 746.0,299.7 747.6,300.5 749.2,302.8 750.8,301.9 752.4,301.2 754.0,300.6 755.6,300.4 757.2,302.1 758.8,301.8 760.4,301.4 761.9,303.1 763.5,303.4 765.1,302.5 766.7,303.0 768.3,304.9 769.9,306.0 771.5,303.1 773.1,301.6 774.7,304.5 776.3,305.9 777.8,304.2 779.4,305.5 781.0,305.8 782.6,303.6 784.2,303.8 785.8,305.9 787.4,306.9 789.0,307.0 790.6,306.1 792.2,306.3 793.7,307.5 795.3,308.8 796.9,309.6 798.5,309.6 800.1,311.2 801.7,313.0 803.3,313.8 804.9,314.5 806.5,314.3 808.1,313.6 809.6,315.4 811.2,317.2 812.8,317.0 814.4,315.0 816.0,313.1 817.6,315.1 819.2,314.9 820.8,311.9 822.4,310.6 824.0,310.8 825.5,309.8 827.1,310.6 828.7,308.3 830.3,305.5 831.9,305.0 833.5,305.3" fill="none" stroke="#000060" stroke-width="1.15" stroke-dasharray="4.25 1.32" stroke-linejoin="round"/>
<polyline points="119.5,391.5 121.1,393.0 122.7,389.7 124.3,393.2 125.9,395.1 127.5,394.9 129.0,401.7 130.6,402.6 132.2,395.5 133.8,395.4 135.4,397.6 137.0,397.8 138.6,396.7 140.2,396.5 141.8,398.8 143.4,401.1 144.9,398.3 146.5,399.1 148.1,402.8 149.7,400.6 151.3,399.5 152.9,402.9 154.5,399.8 156.1,397.1 157.7,397.0 159.3,397.9 160.8,400.1 162.4,399.7 164.0,398.8 165.6,400.1 167.2,400.4 168.8,399.3 170.4,398.6 172.0,398.6 173.6,400.0 175.2,401.7 176.7,401.6 178.3,400.1 179.9,400.3 181.5,400.9 183.1,401.2 184.7,400.9 186.3,398.9 187.9,398.5 189.5,401.6 191.1,403.9 192.6,401.3 194.2,400.3 195.8,401.9 197.4,402.1 199.0,401.1 200.6,401.2 202.2,401.8 203.8,401.1 205.4,400.0 207.0,400.4 208.6,401.7 210.1,402.5 211.7,400.6 213.3,398.5 214.9,401.9 216.5,404.1 218.1,401.1 219.7,399.2 221.3,399.8 222.9,400.9 224.5,400.8 226.0,401.3 227.6,401.8 229.2,400.7 230.8,400.8 232.4,403.2 234.0,402.4 235.6,400.8 237.2,401.3 238.8,402.1 240.4,400.2 241.9,399.1 243.5,401.3 245.1,402.9 246.7,401.3 248.3,400.1 249.9,400.4 251.5,400.2 253.1,400.7 254.7,402.5 256.3,402.4 257.8,400.9 259.4,401.2 261.0,401.4 262.6,400.7 264.2,400.0 265.8,399.2 267.4,400.8 269.0,403.1 270.6,402.4 272.2,400.8 273.7,399.8 275.3,399.8 276.9,401.8 278.5,400.7 280.1,399.3 281.7,400.6 283.3,401.3 284.9,400.3 286.5,401.7 288.1,401.9 289.7,400.5 291.2,399.6 292.8,401.4 294.4,402.7 296.0,400.9 297.6,399.0 299.2,400.8 300.8,401.6 302.4,399.5 304.0,400.7 305.6,403.2 307.1,402.1 308.7,400.7 310.3,401.8 311.9,402.3 313.5,403.1 315.1,403.3 316.7,402.6 318.3,403.3 319.9,403.9 321.5,403.0 323.0,402.6 324.6,402.5 326.2,403.4 327.8,404.3 329.4,402.0 331.0,401.4 332.6,403.8 334.2,402.2 335.8,401.9 337.4,403.9 338.9,404.2 340.5,404.4 342.1,403.8 343.7,401.7 345.3,402.4 346.9,403.9 348.5,404.0 350.1,404.2 351.7,403.7 353.3,403.2 354.8,402.5 356.4,401.8 358.0,402.9 359.6,405.9 361.2,407.1 362.8,404.7 364.4,402.0 366.0,404.5 367.6,407.8 369.2,405.1 370.8,401.8 372.3,404.4 373.9,405.4 375.5,402.2 377.1,403.6 378.7,405.1 380.3,403.4 381.9,403.8 383.5,403.7 385.1,402.4 386.7,403.4 388.2,404.7 389.8,405.7 391.4,404.7 393.0,403.0 394.6,403.5 396.2,406.4 397.8,405.0 399.4,403.6 401.0,405.4 402.6,406.3 404.1,405.0 405.7,406.0 407.3,407.2 408.9,405.9 410.5,402.3 412.1,403.5 413.7,406.0 415.3,406.3 416.9,407.1 418.5,406.6 420.0,405.9 421.6,407.1 423.2,403.1 424.8,403.6 426.4,406.8 428.0,404.6 429.6,404.8 431.2,408.3 432.8,404.8 434.4,405.1 435.9,407.4 437.5,405.4 439.1,402.9 440.7,405.6 442.3,407.1 443.9,407.4 445.5,405.9 447.1,406.0 448.7,405.8 450.3,404.5 451.9,405.2 453.4,407.1 455.0,407.0 456.6,406.7 458.2,405.4 459.8,404.8 461.4,406.0 463.0,405.8 464.6,405.3 466.2,406.9 467.8,407.7 469.3,406.0 470.9,403.5 472.5,403.1 474.1,404.9 475.7,405.9 477.3,404.0 478.9,404.1 480.5,405.3 482.1,403.9 483.7,403.8 485.2,404.8 486.8,404.3 488.4,404.4 490.0,406.1 491.6,405.1 493.2,402.5 494.8,402.3 496.4,404.8 498.0,402.9 499.6,402.2 501.1,403.8 502.7,404.7 504.3,403.1 505.9,403.6 507.5,404.5 509.1,405.5 510.7,404.0 512.3,403.5 513.9,404.1 515.5,404.9 517.1,404.9 518.6,405.1 520.2,405.4 521.8,405.6 523.4,404.7 525.0,403.9 526.6,405.5 528.2,406.6 529.8,407.3 531.4,405.5 533.0,403.7 534.5,405.8 536.1,407.7 537.7,404.9 539.3,404.1 540.9,405.7 542.5,406.8 544.1,405.7 545.7,405.5 547.3,406.8 548.9,405.8 550.4,404.0 552.0,405.5 553.6,405.6 555.2,404.7 556.8,402.9 558.4,403.2 560.0,405.3 561.6,404.5 563.2,401.2 564.8,401.7 566.3,404.2 567.9,405.2 569.5,404.5 571.1,403.9 572.7,402.3 574.3,402.1 575.9,404.7 577.5,404.6 579.1,403.7 580.7,404.2 582.2,402.9 583.8,402.2 585.4,404.7 587.0,404.3 588.6,403.0 590.2,403.2 591.8,403.2 593.4,403.1 595.0,402.5 596.6,401.2 598.2,403.3 599.7,404.3 601.3,402.3 602.9,403.0 604.5,403.7 606.1,401.6 607.7,400.9 609.3,401.0 610.9,401.9 612.5,403.8 614.1,403.0 615.6,400.4 617.2,402.9 618.8,405.3 620.4,402.6 622.0,400.5 623.6,402.9 625.2,404.1 626.8,403.6 628.4,401.5 630.0,401.3 631.5,404.0 633.1,403.1 634.7,401.8 636.3,403.8 637.9,404.1 639.5,402.1 641.1,402.7 642.7,403.8 644.3,401.9 645.9,400.9 647.4,402.1 649.0,402.7 650.6,401.5 652.2,400.8 653.8,401.3 655.4,403.3 657.0,403.4 658.6,401.5 660.2,399.8 661.8,400.8 663.3,400.9 664.9,401.0 666.5,401.7 668.1,403.1 669.7,402.2 671.3,400.9 672.9,402.7 674.5,404.2 676.1,400.7 677.7,399.2 679.3,402.2 680.8,402.6 682.4,400.4 684.0,401.3 685.6,402.5 687.2,402.2 688.8,403.4 690.4,403.8 692.0,402.3 693.6,401.5 695.2,400.5 696.7,399.2 698.3,399.9 699.9,400.7 701.5,399.0 703.1,398.7 704.7,399.5 706.3,398.5 707.9,399.7 709.5,402.1 711.1,400.1 712.6,397.8 714.2,399.4 715.8,401.0 717.4,400.1 719.0,400.3 720.6,401.5 722.2,400.7 723.8,400.2 725.4,398.5 727.0,396.7 728.5,398.6 730.1,400.7 731.7,400.3 733.3,400.4 734.9,400.3 736.5,400.3 738.1,400.4 739.7,400.5 741.3,399.5 742.9,399.9 744.4,401.4 746.0,401.8 747.6,401.2 749.2,402.6 750.8,402.5 752.4,402.4 754.0,401.4 755.6,400.6 757.2,401.8 758.8,401.4 760.4,400.6 761.9,401.7 763.5,402.4 765.1,402.2 766.7,402.5 768.3,403.7 769.9,404.0 771.5,400.9 773.1,399.8 774.7,401.7 776.3,402.7 777.8,401.4 779.4,401.9 781.0,400.9 782.6,398.7 784.2,399.0 785.8,400.8 787.4,400.8 789.0,399.9 790.6,399.8 792.2,399.7 793.7,399.4 795.3,400.9 796.9,402.1 798.5,401.0 800.1,401.9 801.7,403.4 803.3,403.5 804.9,403.8 806.5,404.1 808.1,404.0 809.6,405.3 811.2,406.3 812.8,405.2 814.4,404.0 816.0,403.5 817.6,405.4 819.2,405.2 820.8,402.6 822.4,401.5 824.0,401.9 825.5,401.3 827.1,402.6 828.7,400.9 830.3,397.6 831.9,397.5 833.5,399.2" fill="none" stroke="#000038" stroke-width="1.35" stroke-dasharray="5.00 1.55" stroke-linejoin="round"/>
<polyline points="119.5,438.6 121.1,442.2 122.7,438.1 124.3,439.3 125.9,440.6 127.5,441.7 129.0,446.8 130.6,446.7 132.2,442.7 133.8,443.7 135.4,443.9 137.0,443.7 138.6,442.0 140.2,441.8 141.8,445.0 143.4,448.2 144.9,445.0 146.5,444.1 148.1,447.3 149.7,445.7 151.3,444.4 152.9,448.2 154.5,446.8 156.1,444.0 157.7,443.0 159.3,444.2 160.8,446.4 162.4,445.5 164.0,445.1 165.6,445.8 167.2,446.0 168.8,446.0 170.4,445.2 172.0,444.3 173.6,446.2 175.2,448.0 176.7,447.7 178.3,446.5 179.9,446.7 181.5,447.3 183.1,447.7 184.7,447.2 186.3,445.5 187.9,445.4 189.5,448.0 191.1,450.0 192.6,448.1 194.2,447.0 195.8,448.7 197.4,449.0 199.0,448.2 200.6,447.8 202.2,447.7 203.8,447.5 205.4,447.8 207.0,448.2 208.6,448.9 210.1,449.4 211.7,448.6 213.3,447.0 214.9,448.6 216.5,450.3 218.1,449.2 219.7,447.7 221.3,447.9 222.9,448.8 224.5,448.7 226.0,449.3 227.6,450.5 229.2,449.5 230.8,448.9 232.4,450.6 234.0,450.3 235.6,449.1 237.2,448.9 238.8,449.8 240.4,448.8 241.9,447.8 243.5,448.6 245.1,449.7 246.7,448.9 248.3,448.4 249.9,448.6 251.5,448.3 253.1,448.4 254.7,449.7 256.3,449.7 257.8,449.0 259.4,449.2 261.0,448.8 262.6,448.5 264.2,448.0 265.8,447.6 267.4,448.7 269.0,450.5 270.6,449.6 272.2,447.6 273.7,446.8 275.3,447.4 276.9,448.9 278.5,448.5 280.1,447.5 281.7,448.2 283.3,449.6 284.9,449.4 286.5,449.8 288.1,450.1 289.7,449.1 291.2,447.9 292.8,449.1 294.4,450.5 296.0,449.8 297.6,448.5 299.2,449.4 300.8,450.2 302.4,448.6 304.0,449.6 305.6,451.8 307.1,450.5 308.7,449.5 310.3,451.2 311.9,450.8 313.5,450.1 315.1,451.2 316.7,451.4 318.3,451.0 319.9,451.2 321.5,451.0 323.0,450.0 324.6,449.0 326.2,450.1 327.8,451.5 329.4,449.7 331.0,448.5 332.6,450.3 334.2,449.7 335.8,449.5 337.4,450.5 338.9,450.6 340.5,451.2 342.1,451.2 343.7,449.1 345.3,449.0 346.9,450.5 348.5,450.9 350.1,450.7 351.7,449.9 353.3,449.5 354.8,449.5 356.4,449.8 358.0,450.8 359.6,452.4 361.2,453.6 362.8,451.9 364.4,449.3 366.0,450.7 367.6,453.8 369.2,452.0 370.8,449.3 372.3,451.4 373.9,452.5 375.5,449.9 377.1,450.9 378.7,451.9 380.3,451.2 381.9,451.4 383.5,450.4 385.1,450.0 386.7,451.3 388.2,451.2 389.8,452.0 391.4,452.1 393.0,450.5 394.6,450.5 396.2,453.0 397.8,451.8 399.4,450.4 401.0,451.7 402.6,452.1 404.1,451.3 405.7,452.6 407.3,453.6 408.9,452.2 410.5,449.5 412.1,450.8 413.7,452.3 415.3,452.5 416.9,453.3 418.5,452.1 420.0,451.7 421.6,454.5 423.2,452.0 424.8,451.1 426.4,453.1 428.0,452.2 429.6,452.8 431.2,455.1 432.8,452.0 434.4,452.4 435.9,454.2 437.5,451.8 439.1,450.0 440.7,453.1 442.3,454.0 443.9,453.6 445.5,453.4 447.1,453.1 448.7,452.2 450.3,451.9 451.9,452.3 453.4,452.8 455.0,453.3 456.6,453.5 458.2,452.3 459.8,451.7 461.4,452.6 463.0,452.7 464.6,452.1 466.2,453.0 467.8,454.3 469.3,453.5 470.9,451.0 472.5,450.7 474.1,452.2 475.7,452.7 477.3,451.6 478.9,452.0 480.5,452.7 482.1,450.8 483.7,450.4 485.2,451.8 486.8,451.0 488.4,450.6 490.0,452.1 491.6,451.2 493.2,449.2 494.8,449.5 496.4,451.2 498.0,449.4 499.6,448.8 501.1,450.7 502.7,451.9 504.3,450.3 505.9,450.5 507.5,451.3 509.1,451.8 510.7,449.8 512.3,449.6 513.9,450.7 515.5,451.3 517.1,451.1 518.6,451.5 520.2,452.0 521.8,452.0 523.4,450.1 525.0,449.7 526.6,451.2 528.2,452.0 529.8,452.6 531.4,451.4 533.0,449.8 534.5,451.7 536.1,453.5 537.7,451.8 539.3,451.4 540.9,452.0 542.5,452.0 544.1,451.4 545.7,452.0 547.3,453.0 548.9,452.1 550.4,450.6 552.0,452.0 553.6,452.6 555.2,451.6 556.8,449.9 558.4,449.8 560.0,451.8 561.6,451.7 563.2,449.0 564.8,449.4 566.3,451.3 567.9,451.6 569.5,451.5 571.1,451.0 572.7,448.7 574.3,448.9 575.9,452.0 577.5,451.1 579.1,449.9 580.7,451.0 582.2,449.4 583.8,448.8 585.4,452.0 587.0,452.0 588.6,450.8 590.2,450.5 591.8,450.1 593.4,450.4 595.0,449.8 596.6,448.3 598.2,450.1 599.7,451.4 601.3,449.7 602.9,450.1 604.5,451.1 606.1,449.4 607.7,448.6 609.3,448.8 610.9,449.3 612.5,451.5 614.1,451.2 615.6,448.2 617.2,450.2 618.8,452.4 620.4,450.4 622.0,449.2 623.6,451.2 625.2,452.1 626.8,451.0 628.4,449.4 630.0,449.5 631.5,451.3 633.1,450.9 634.7,450.2 636.3,451.7 637.9,452.1 639.5,450.4 641.1,450.6 642.7,451.0 644.3,450.1 645.9,450.0 647.4,450.5 649.0,450.7 650.6,450.4 652.2,450.1 653.8,449.6 655.4,451.1 657.0,451.9 658.6,450.2 660.2,449.0 661.8,449.7 663.3,449.5 664.9,449.7 666.5,450.3 668.1,451.6 669.7,450.8 671.3,449.6 672.9,451.4 674.5,452.5 676.1,448.8 677.7,447.3 679.3,449.7 680.8,449.9 682.4,447.9 684.0,448.8 685.6,449.5 687.2,448.9 688.8,449.8 690.4,449.4 692.0,448.6 693.6,449.3 695.2,449.0 696.7,447.8 698.3,448.7 699.9,449.6 701.5,448.0 703.1,447.4 704.7,448.2 706.3,447.4 707.9,448.4 709.5,450.1 711.1,448.6 712.6,446.4 714.2,447.0 715.8,448.4 717.4,448.7 719.0,448.2 720.6,448.1 722.2,447.9 723.8,448.1 725.4,447.3 727.0,445.9 728.5,446.8 730.1,448.2 731.7,448.2 733.3,448.0 734.9,448.1 736.5,448.8 738.1,448.9 739.7,448.5 741.3,447.8 742.9,448.1 744.4,449.1 746.0,449.0 747.6,448.8 749.2,450.3 750.8,450.0 752.4,449.0 754.0,447.9 755.6,448.2 757.2,450.1 758.8,449.2 760.4,448.0 761.9,449.5 763.5,450.0 765.1,449.2 766.7,449.1 768.3,450.0 769.9,450.5 771.5,448.3 773.1,447.7 774.7,450.0 776.3,450.7 777.8,449.0 779.4,449.0 781.0,449.0 782.6,448.0 784.2,448.2 785.8,449.5 787.4,449.7 789.0,448.6 790.6,448.3 792.2,449.0 793.7,449.6 795.3,450.2 796.9,450.2 798.5,449.5 800.1,450.8 801.7,452.0 803.3,452.2 804.9,452.5 806.5,452.5 808.1,452.0 809.6,452.8 811.2,453.8 812.8,453.1 814.4,451.9 816.0,452.1 817.6,454.0 819.2,453.0 820.8,450.9 822.4,450.5 824.0,451.0 825.5,450.3 827.1,450.7 828.7,448.8 830.3,446.4 831.9,446.1 833.5,447.0" fill="none" stroke="#000" stroke-width="2.85" stroke-linejoin="round"/>
</g>
<rect x="119.5" y="39.5" width="714.0" height="726.0" fill="none" stroke="#000" stroke-width="1.25"/>
<line x1="119.50" y1="765.5" x2="119.50" y2="771.8" stroke="#000" stroke-width="1.25"/>
<line x1="199.50" y1="765.5" x2="199.50" y2="771.8" stroke="#000" stroke-width="1.25"/>
<line x1="278.50" y1="765.5" x2="278.50" y2="771.8" stroke="#000" stroke-width="1.25"/>
<line x1="358.50" y1="765.5" x2="358.50" y2="771.8" stroke="#000" stroke-width="1.25"/>
<line x1="437.50" y1="765.5" x2="437.50" y2="771.8" stroke="#000" stroke-width="1.25"/>
<line x1="517.50" y1="765.5" x2="517.50" y2="771.8" stroke="#000" stroke-width="1.25"/>
<line x1="596.50" y1="765.5" x2="596.50" y2="771.8" stroke="#000" stroke-width="1.25"/>
<line x1="676.50" y1="765.5" x2="676.50" y2="771.8" stroke="#000" stroke-width="1.25"/>
<line x1="755.50" y1="765.5" x2="755.50" y2="771.8" stroke="#000" stroke-width="1.25"/>
<line x1="113.2" y1="742.5" x2="119.5" y2="742.5" stroke="#000" stroke-width="1.25"/>
<line x1="113.2" y1="624.5" x2="119.5" y2="624.5" stroke="#000" stroke-width="1.25"/>
<line x1="113.2" y1="505.5" x2="119.5" y2="505.5" stroke="#000" stroke-width="1.25"/>
<line x1="113.2" y1="387.5" x2="119.5" y2="387.5" stroke="#000" stroke-width="1.25"/>
<line x1="113.2" y1="268.5" x2="119.5" y2="268.5" stroke="#000" stroke-width="1.25"/>
<line x1="113.2" y1="150.5" x2="119.5" y2="150.5" stroke="#000" stroke-width="1.25"/>
<g font-family="'DejaVu Sans', 'Liberation Sans', sans-serif" fill="#000" stroke="#000" stroke-width="0.3">
<text transform="translate(119.40,790.5) scale(0.945,1)" text-anchor="middle" font-size="17">0</text>
<text transform="translate(198.92,790.5) scale(0.945,1)" text-anchor="middle" font-size="17">50</text>
<text transform="translate(278.44,790.5) scale(0.945,1)" text-anchor="middle" font-size="17">100</text>
<text transform="translate(357.96,790.5) scale(0.945,1)" text-anchor="middle" font-size="17">150</text>
<text transform="translate(437.48,790.5) scale(0.945,1)" text-anchor="middle" font-size="17">200</text>
<text transform="translate(517.01,790.5) scale(0.945,1)" text-anchor="middle" font-size="17">250</text>
<text transform="translate(596.53,790.5) scale(0.945,1)" text-anchor="middle" font-size="17">300</text>
<text transform="translate(676.05,790.5) scale(0.945,1)" text-anchor="middle" font-size="17">350</text>
<text transform="translate(755.57,790.5) scale(0.945,1)" text-anchor="middle" font-size="17">400</text>
<text transform="translate(107.2,748.6) scale(0.945,1)" text-anchor="end" font-size="17">0.08</text>
<text transform="translate(107.2,630.6) scale(0.945,1)" text-anchor="end" font-size="17">0.10</text>
<text transform="translate(107.2,511.6) scale(0.945,1)" text-anchor="end" font-size="17">0.12</text>
<text transform="translate(107.2,393.6) scale(0.945,1)" text-anchor="end" font-size="17">0.14</text>
<text transform="translate(107.2,274.6) scale(0.945,1)" text-anchor="end" font-size="17">0.16</text>
<text transform="translate(107.2,156.6) scale(0.945,1)" text-anchor="end" font-size="17">0.18</text>
<text x="476.2" y="815.6" text-anchor="middle" font-size="16.67">Binned row index</text>
<text transform="translate(59,403.3) rotate(-90)" text-anchor="middle" font-size="16.67">O₃ vertical column [mol m⁻²]</text>
<rect x="119" y="17" width="714" height="22" rx="2.3" fill="#fff" fill-opacity="0.8" stroke="#ccc" stroke-opacity="0.8" stroke-width="1.39"/>
<line x1="124.2" y1="27.45" x2="147.5" y2="27.45" stroke="#c4c4ff" stroke-width="0.76" stroke-dasharray="2.81 1.22"/>
<text transform="translate(156.8,31.9) scale(0.975,1)" font-size="11.66" stroke-width="0.1">1-99%</text>
<line x1="278.2" y1="27.45" x2="301.5" y2="27.45" stroke="#9494ff" stroke-width="1.13" stroke-dasharray="4.18 1.81"/>
<text transform="translate(310.8,31.9) scale(0.975,1)" font-size="11.66" stroke-width="0.1">5-95%</text>
<line x1="432.2" y1="27.45" x2="455.5" y2="27.45" stroke="#7070ff" stroke-width="1.5" stroke-dasharray="5.55 2.40"/>
<text transform="translate(464.8,31.9) scale(0.975,1)" font-size="11.66" stroke-width="0.1">10-90%</text>
<line x1="593.4" y1="27.45" x2="616.6999999999999" y2="27.45" stroke="#7070ff" stroke-width="1.9" stroke-dasharray="7.03 3.04"/>
<text transform="translate(626.0,31.9) scale(0.975,1)" font-size="11.66" stroke-width="0.1">25-75%</text>
<line x1="754.3" y1="27.45" x2="777.5999999999999" y2="27.45" stroke="#000" stroke-width="3.06" stroke-linecap="square"/>
<text transform="translate(786.9,31.9) scale(0.975,1)" font-size="11.66" stroke-width="0.1">Median</text>
</g>
</svg>
</body></html>
